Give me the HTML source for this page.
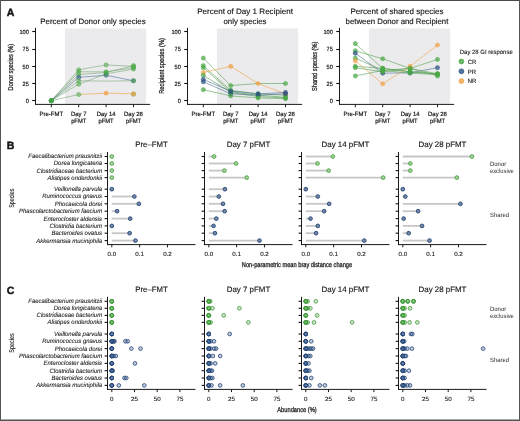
<!DOCTYPE html>
<html><head><meta charset="utf-8"><style>
html,body{margin:0;padding:0;background:#fff;width:520px;height:421px;overflow:hidden}
svg{display:block;filter:blur(0.3px);text-rendering:geometricPrecision;font-family:"Liberation Sans",sans-serif}
</style></head><body>
<svg width="520" height="421" viewBox="0 0 520 421">
<rect x="0" y="0" width="520" height="421" fill="#fff"/>
<text x="6.80" y="16.20" font-size="10.5" text-anchor="start" fill="#151515" font-weight="bold" stroke="#111" stroke-width="0.45">A</text>
<rect x="64.90" y="28.5" width="81.2" height="75.4" fill="#ebebed"/>
<text x="93.00" y="23.60" font-size="7.95" text-anchor="middle" fill="#151515" textLength="105.38" lengthAdjust="spacingAndGlyphs" stroke="#151515" stroke-width="0.14">Percent of Donor only species</text>
<text transform="translate(13.10,67.10) rotate(-90)" font-size="7.2" stroke="#1a1a1a" stroke-width="0.25" text-anchor="middle" fill="#1a1a1a" textLength="46.6" lengthAdjust="spacingAndGlyphs">Donor species (%)</text>
<line x1="35.50" y1="27.9" x2="35.50" y2="104.9" stroke="#1a1a1a" stroke-width="1"/>
<line x1="35.00" y1="104.4" x2="150.10" y2="104.4" stroke="#1a1a1a" stroke-width="1"/>
<line x1="32.20" y1="100.50" x2="35.50" y2="100.50" stroke="#111" stroke-width="1.1"/>
<text x="28.80" y="102.90" font-size="6.0" text-anchor="end" fill="#151515" textLength="3.11" lengthAdjust="spacingAndGlyphs" stroke="#151515" stroke-width="0.18">0</text>
<line x1="32.20" y1="83.50" x2="35.50" y2="83.50" stroke="#111" stroke-width="1.1"/>
<text x="28.80" y="85.71" font-size="6.0" text-anchor="end" fill="#151515" textLength="6.23" lengthAdjust="spacingAndGlyphs" stroke="#151515" stroke-width="0.18">25</text>
<line x1="32.20" y1="66.50" x2="35.50" y2="66.50" stroke="#111" stroke-width="1.1"/>
<text x="28.80" y="68.52" font-size="6.0" text-anchor="end" fill="#151515" textLength="6.23" lengthAdjust="spacingAndGlyphs" stroke="#151515" stroke-width="0.18">50</text>
<line x1="32.20" y1="49.50" x2="35.50" y2="49.50" stroke="#111" stroke-width="1.1"/>
<text x="28.80" y="51.33" font-size="6.0" text-anchor="end" fill="#151515" textLength="6.23" lengthAdjust="spacingAndGlyphs" stroke="#151515" stroke-width="0.18">75</text>
<line x1="32.20" y1="31.50" x2="35.50" y2="31.50" stroke="#111" stroke-width="1.1"/>
<text x="28.80" y="34.14" font-size="6.0" text-anchor="end" fill="#151515" textLength="9.34" lengthAdjust="spacingAndGlyphs" stroke="#151515" stroke-width="0.18">100</text>
<line x1="51.30" y1="104.4" x2="51.30" y2="107.2" stroke="#1a1a1a" stroke-width="1"/>
<text x="51.30" y="116.00" font-size="6.1" text-anchor="middle" fill="#151515" textLength="23.46" lengthAdjust="spacingAndGlyphs" stroke="#151515" stroke-width="0.18">Pre-FMT</text>
<line x1="78.70" y1="104.4" x2="78.70" y2="107.2" stroke="#1a1a1a" stroke-width="1"/>
<text x="78.70" y="116.00" font-size="6.1" text-anchor="middle" fill="#151515" textLength="15.54" lengthAdjust="spacingAndGlyphs" stroke="#151515" stroke-width="0.18">Day 7</text>
<text x="78.70" y="123.00" font-size="6.1" text-anchor="middle" fill="#151515" textLength="15.14" lengthAdjust="spacingAndGlyphs" stroke="#151515" stroke-width="0.18">pFMT</text>
<line x1="106.10" y1="104.4" x2="106.10" y2="107.2" stroke="#1a1a1a" stroke-width="1"/>
<text x="106.10" y="116.00" font-size="6.1" text-anchor="middle" fill="#151515" textLength="18.85" lengthAdjust="spacingAndGlyphs" stroke="#151515" stroke-width="0.18">Day 14</text>
<text x="106.10" y="123.00" font-size="6.1" text-anchor="middle" fill="#151515" textLength="15.14" lengthAdjust="spacingAndGlyphs" stroke="#151515" stroke-width="0.18">pFMT</text>
<line x1="133.50" y1="104.4" x2="133.50" y2="107.2" stroke="#1a1a1a" stroke-width="1"/>
<text x="133.50" y="116.00" font-size="6.1" text-anchor="middle" fill="#151515" textLength="18.85" lengthAdjust="spacingAndGlyphs" stroke="#151515" stroke-width="0.18">Day 28</text>
<text x="133.50" y="123.00" font-size="6.1" text-anchor="middle" fill="#151515" textLength="15.14" lengthAdjust="spacingAndGlyphs" stroke="#151515" stroke-width="0.18">pFMT</text>
<polyline points="51.30,100.70 78.70,69.76 106.10,64.94 133.50,66.32" fill="none" stroke="#6a9e66" stroke-opacity="0.75" stroke-width="0.7"/>
<polyline points="51.30,100.70 78.70,71.82 106.10,71.82 133.50,67.70" fill="none" stroke="#6a9e66" stroke-opacity="0.75" stroke-width="0.7"/>
<polyline points="51.30,100.70 78.70,74.57 106.10,72.51 133.50,65.63" fill="none" stroke="#6a9e66" stroke-opacity="0.75" stroke-width="0.7"/>
<polyline points="51.30,100.70 78.70,77.32 106.10,75.26 133.50,80.76" fill="none" stroke="#3f628f" stroke-opacity="0.8" stroke-width="0.7"/>
<polyline points="51.30,100.70 78.70,80.76 106.10,81.10 133.50,80.76" fill="none" stroke="#6a9e66" stroke-opacity="0.75" stroke-width="0.7"/>
<polyline points="51.30,100.70 78.70,84.20 106.10,73.88 133.50,69.07" fill="none" stroke="#6a9e66" stroke-opacity="0.75" stroke-width="0.7"/>
<polyline points="51.30,100.70 78.70,94.51" fill="none" stroke="#6a9e66" stroke-opacity="0.75" stroke-width="0.7"/>
<polyline points="133.50,94.17" fill="none" stroke="#6a9e66" stroke-opacity="0.75" stroke-width="0.7"/>
<polyline points="78.70,94.51 106.10,93.14 133.50,93.82" fill="none" stroke="#f0a040" stroke-opacity="0.85" stroke-width="0.7"/>
<circle cx="51.30" cy="100.70" r="2.1" fill="#4aa846" fill-opacity="0.5" stroke="#4aa846" stroke-opacity="0.8" stroke-width="0.6"/>
<circle cx="78.70" cy="69.76" r="2.1" fill="#4aa846" fill-opacity="0.5" stroke="#4aa846" stroke-opacity="0.8" stroke-width="0.6"/>
<circle cx="106.10" cy="64.94" r="2.1" fill="#4aa846" fill-opacity="0.5" stroke="#4aa846" stroke-opacity="0.8" stroke-width="0.6"/>
<circle cx="133.50" cy="66.32" r="2.1" fill="#4aa846" fill-opacity="0.5" stroke="#4aa846" stroke-opacity="0.8" stroke-width="0.6"/>
<circle cx="51.30" cy="100.70" r="2.1" fill="#4aa846" fill-opacity="0.5" stroke="#4aa846" stroke-opacity="0.8" stroke-width="0.6"/>
<circle cx="78.70" cy="71.82" r="2.1" fill="#4aa846" fill-opacity="0.5" stroke="#4aa846" stroke-opacity="0.8" stroke-width="0.6"/>
<circle cx="106.10" cy="71.82" r="2.1" fill="#4aa846" fill-opacity="0.5" stroke="#4aa846" stroke-opacity="0.8" stroke-width="0.6"/>
<circle cx="133.50" cy="67.70" r="2.1" fill="#4aa846" fill-opacity="0.5" stroke="#4aa846" stroke-opacity="0.8" stroke-width="0.6"/>
<circle cx="51.30" cy="100.70" r="2.1" fill="#4aa846" fill-opacity="0.5" stroke="#4aa846" stroke-opacity="0.8" stroke-width="0.6"/>
<circle cx="78.70" cy="74.57" r="2.1" fill="#4aa846" fill-opacity="0.5" stroke="#4aa846" stroke-opacity="0.8" stroke-width="0.6"/>
<circle cx="106.10" cy="72.51" r="2.1" fill="#4aa846" fill-opacity="0.5" stroke="#4aa846" stroke-opacity="0.8" stroke-width="0.6"/>
<circle cx="133.50" cy="65.63" r="2.1" fill="#4aa846" fill-opacity="0.5" stroke="#4aa846" stroke-opacity="0.8" stroke-width="0.6"/>
<circle cx="51.30" cy="100.70" r="2.1" fill="#2c5183" fill-opacity="0.5" stroke="#2c5183" stroke-opacity="0.8" stroke-width="0.6"/>
<circle cx="78.70" cy="77.32" r="2.1" fill="#2c5183" fill-opacity="0.5" stroke="#2c5183" stroke-opacity="0.8" stroke-width="0.6"/>
<circle cx="106.10" cy="75.26" r="2.1" fill="#2c5183" fill-opacity="0.5" stroke="#2c5183" stroke-opacity="0.8" stroke-width="0.6"/>
<circle cx="133.50" cy="80.76" r="2.1" fill="#2c5183" fill-opacity="0.5" stroke="#2c5183" stroke-opacity="0.8" stroke-width="0.6"/>
<circle cx="51.30" cy="100.70" r="2.1" fill="#4aa846" fill-opacity="0.5" stroke="#4aa846" stroke-opacity="0.8" stroke-width="0.6"/>
<circle cx="78.70" cy="80.76" r="2.1" fill="#4aa846" fill-opacity="0.5" stroke="#4aa846" stroke-opacity="0.8" stroke-width="0.6"/>
<circle cx="133.50" cy="80.76" r="2.1" fill="#4aa846" fill-opacity="0.5" stroke="#4aa846" stroke-opacity="0.8" stroke-width="0.6"/>
<circle cx="51.30" cy="100.70" r="2.1" fill="#4aa846" fill-opacity="0.5" stroke="#4aa846" stroke-opacity="0.8" stroke-width="0.6"/>
<circle cx="78.70" cy="84.20" r="2.1" fill="#4aa846" fill-opacity="0.5" stroke="#4aa846" stroke-opacity="0.8" stroke-width="0.6"/>
<circle cx="106.10" cy="73.88" r="2.1" fill="#4aa846" fill-opacity="0.5" stroke="#4aa846" stroke-opacity="0.8" stroke-width="0.6"/>
<circle cx="133.50" cy="69.07" r="2.1" fill="#4aa846" fill-opacity="0.5" stroke="#4aa846" stroke-opacity="0.8" stroke-width="0.6"/>
<circle cx="51.30" cy="100.70" r="2.1" fill="#4aa846" fill-opacity="0.5" stroke="#4aa846" stroke-opacity="0.8" stroke-width="0.6"/>
<circle cx="78.70" cy="94.51" r="2.1" fill="#4aa846" fill-opacity="0.5" stroke="#4aa846" stroke-opacity="0.8" stroke-width="0.6"/>
<circle cx="133.50" cy="94.17" r="2.1" fill="#4aa846" fill-opacity="0.5" stroke="#4aa846" stroke-opacity="0.8" stroke-width="0.6"/>
<circle cx="106.10" cy="93.14" r="2.1" fill="#f0a045" fill-opacity="0.7" stroke="#f0a045" stroke-opacity="0.8" stroke-width="0.6"/>
<circle cx="133.50" cy="93.82" r="2.1" fill="#f0a045" fill-opacity="0.7" stroke="#f0a045" stroke-opacity="0.8" stroke-width="0.6"/>
<rect x="216.90" y="28.5" width="81.2" height="75.4" fill="#ebebed"/>
<text x="245.00" y="13.70" font-size="7.95" text-anchor="middle" fill="#151515" textLength="95.75" lengthAdjust="spacingAndGlyphs" stroke="#151515" stroke-width="0.14">Percent of Day 1 Recipient</text>
<text x="245.00" y="24.40" font-size="7.95" text-anchor="middle" fill="#151515" textLength="42.92" lengthAdjust="spacingAndGlyphs" stroke="#151515" stroke-width="0.14">only species</text>
<text transform="translate(164.30,65.90) rotate(-90)" font-size="7.2" stroke="#1a1a1a" stroke-width="0.25" text-anchor="middle" fill="#1a1a1a" textLength="55.8" lengthAdjust="spacingAndGlyphs">Recipient species (%)</text>
<line x1="187.50" y1="27.9" x2="187.50" y2="104.9" stroke="#1a1a1a" stroke-width="1"/>
<line x1="187.00" y1="104.4" x2="302.10" y2="104.4" stroke="#1a1a1a" stroke-width="1"/>
<line x1="184.20" y1="100.50" x2="187.50" y2="100.50" stroke="#111" stroke-width="1.1"/>
<text x="180.80" y="102.90" font-size="6.0" text-anchor="end" fill="#151515" textLength="3.11" lengthAdjust="spacingAndGlyphs" stroke="#151515" stroke-width="0.18">0</text>
<line x1="184.20" y1="83.50" x2="187.50" y2="83.50" stroke="#111" stroke-width="1.1"/>
<text x="180.80" y="85.71" font-size="6.0" text-anchor="end" fill="#151515" textLength="6.23" lengthAdjust="spacingAndGlyphs" stroke="#151515" stroke-width="0.18">25</text>
<line x1="184.20" y1="66.50" x2="187.50" y2="66.50" stroke="#111" stroke-width="1.1"/>
<text x="180.80" y="68.52" font-size="6.0" text-anchor="end" fill="#151515" textLength="6.23" lengthAdjust="spacingAndGlyphs" stroke="#151515" stroke-width="0.18">50</text>
<line x1="184.20" y1="49.50" x2="187.50" y2="49.50" stroke="#111" stroke-width="1.1"/>
<text x="180.80" y="51.33" font-size="6.0" text-anchor="end" fill="#151515" textLength="6.23" lengthAdjust="spacingAndGlyphs" stroke="#151515" stroke-width="0.18">75</text>
<line x1="184.20" y1="31.50" x2="187.50" y2="31.50" stroke="#111" stroke-width="1.1"/>
<text x="180.80" y="34.14" font-size="6.0" text-anchor="end" fill="#151515" textLength="9.34" lengthAdjust="spacingAndGlyphs" stroke="#151515" stroke-width="0.18">100</text>
<line x1="203.30" y1="104.4" x2="203.30" y2="107.2" stroke="#1a1a1a" stroke-width="1"/>
<text x="203.30" y="116.00" font-size="6.1" text-anchor="middle" fill="#151515" textLength="23.46" lengthAdjust="spacingAndGlyphs" stroke="#151515" stroke-width="0.18">Pre-FMT</text>
<line x1="230.70" y1="104.4" x2="230.70" y2="107.2" stroke="#1a1a1a" stroke-width="1"/>
<text x="230.70" y="116.00" font-size="6.1" text-anchor="middle" fill="#151515" textLength="15.54" lengthAdjust="spacingAndGlyphs" stroke="#151515" stroke-width="0.18">Day 7</text>
<text x="230.70" y="123.00" font-size="6.1" text-anchor="middle" fill="#151515" textLength="15.14" lengthAdjust="spacingAndGlyphs" stroke="#151515" stroke-width="0.18">pFMT</text>
<line x1="258.10" y1="104.4" x2="258.10" y2="107.2" stroke="#1a1a1a" stroke-width="1"/>
<text x="258.10" y="116.00" font-size="6.1" text-anchor="middle" fill="#151515" textLength="18.85" lengthAdjust="spacingAndGlyphs" stroke="#151515" stroke-width="0.18">Day 14</text>
<text x="258.10" y="123.00" font-size="6.1" text-anchor="middle" fill="#151515" textLength="15.14" lengthAdjust="spacingAndGlyphs" stroke="#151515" stroke-width="0.18">pFMT</text>
<line x1="285.50" y1="104.4" x2="285.50" y2="107.2" stroke="#1a1a1a" stroke-width="1"/>
<text x="285.50" y="116.00" font-size="6.1" text-anchor="middle" fill="#151515" textLength="18.85" lengthAdjust="spacingAndGlyphs" stroke="#151515" stroke-width="0.18">Day 28</text>
<text x="285.50" y="123.00" font-size="6.1" text-anchor="middle" fill="#151515" textLength="15.14" lengthAdjust="spacingAndGlyphs" stroke="#151515" stroke-width="0.18">pFMT</text>
<polyline points="203.30,58.07 230.70,85.57 258.10,83.51 285.50,83.51" fill="none" stroke="#55a050" stroke-opacity="0.85" stroke-width="0.7"/>
<polyline points="203.30,65.63 230.70,90.39 258.10,93.82 285.50,95.20" fill="none" stroke="#55a050" stroke-opacity="0.85" stroke-width="0.7"/>
<polyline points="203.30,67.70 230.70,91.76 258.10,95.20 285.50,97.26" fill="none" stroke="#55a050" stroke-opacity="0.85" stroke-width="0.7"/>
<polyline points="203.30,72.51 230.70,66.32 258.10,83.51 285.50,93.82" fill="none" stroke="#f0a040" stroke-opacity="0.85" stroke-width="0.7"/>
<polyline points="203.30,75.26 230.70,92.45 258.10,96.57 285.50,97.95" fill="none" stroke="#55a050" stroke-opacity="0.85" stroke-width="0.7"/>
<polyline points="203.30,79.38 230.70,91.07 258.10,93.82 285.50,92.45" fill="none" stroke="#3f628f" stroke-opacity="0.8" stroke-width="0.7"/>
<polyline points="203.30,81.79 230.70,93.82 258.10,95.20 285.50,93.82" fill="none" stroke="#3f628f" stroke-opacity="0.8" stroke-width="0.7"/>
<polyline points="203.30,89.70 230.70,95.89 258.10,97.95 285.50,98.64" fill="none" stroke="#55a050" stroke-opacity="0.85" stroke-width="0.7"/>
<circle cx="203.30" cy="58.07" r="2.1" fill="#4aa846" fill-opacity="0.7" stroke="#4aa846" stroke-opacity="0.8" stroke-width="0.6"/>
<circle cx="230.70" cy="85.57" r="2.1" fill="#4aa846" fill-opacity="0.7" stroke="#4aa846" stroke-opacity="0.8" stroke-width="0.6"/>
<circle cx="285.50" cy="83.51" r="2.1" fill="#4aa846" fill-opacity="0.7" stroke="#4aa846" stroke-opacity="0.8" stroke-width="0.6"/>
<circle cx="203.30" cy="65.63" r="2.1" fill="#4aa846" fill-opacity="0.7" stroke="#4aa846" stroke-opacity="0.8" stroke-width="0.6"/>
<circle cx="230.70" cy="90.39" r="2.1" fill="#4aa846" fill-opacity="0.7" stroke="#4aa846" stroke-opacity="0.8" stroke-width="0.6"/>
<circle cx="258.10" cy="93.82" r="2.1" fill="#4aa846" fill-opacity="0.7" stroke="#4aa846" stroke-opacity="0.8" stroke-width="0.6"/>
<circle cx="285.50" cy="95.20" r="2.1" fill="#4aa846" fill-opacity="0.7" stroke="#4aa846" stroke-opacity="0.8" stroke-width="0.6"/>
<circle cx="203.30" cy="67.70" r="2.1" fill="#4aa846" fill-opacity="0.7" stroke="#4aa846" stroke-opacity="0.8" stroke-width="0.6"/>
<circle cx="230.70" cy="91.76" r="2.1" fill="#4aa846" fill-opacity="0.7" stroke="#4aa846" stroke-opacity="0.8" stroke-width="0.6"/>
<circle cx="258.10" cy="95.20" r="2.1" fill="#4aa846" fill-opacity="0.7" stroke="#4aa846" stroke-opacity="0.8" stroke-width="0.6"/>
<circle cx="285.50" cy="97.26" r="2.1" fill="#4aa846" fill-opacity="0.7" stroke="#4aa846" stroke-opacity="0.8" stroke-width="0.6"/>
<circle cx="203.30" cy="72.51" r="2.1" fill="#f0a045" fill-opacity="0.7" stroke="#f0a045" stroke-opacity="0.8" stroke-width="0.6"/>
<circle cx="230.70" cy="66.32" r="2.1" fill="#f0a045" fill-opacity="0.7" stroke="#f0a045" stroke-opacity="0.8" stroke-width="0.6"/>
<circle cx="258.10" cy="83.51" r="2.1" fill="#f0a045" fill-opacity="0.7" stroke="#f0a045" stroke-opacity="0.8" stroke-width="0.6"/>
<circle cx="285.50" cy="93.82" r="2.1" fill="#f0a045" fill-opacity="0.7" stroke="#f0a045" stroke-opacity="0.8" stroke-width="0.6"/>
<circle cx="203.30" cy="75.26" r="2.1" fill="#4aa846" fill-opacity="0.7" stroke="#4aa846" stroke-opacity="0.8" stroke-width="0.6"/>
<circle cx="230.70" cy="92.45" r="2.1" fill="#4aa846" fill-opacity="0.7" stroke="#4aa846" stroke-opacity="0.8" stroke-width="0.6"/>
<circle cx="258.10" cy="96.57" r="2.1" fill="#4aa846" fill-opacity="0.7" stroke="#4aa846" stroke-opacity="0.8" stroke-width="0.6"/>
<circle cx="285.50" cy="97.95" r="2.1" fill="#4aa846" fill-opacity="0.7" stroke="#4aa846" stroke-opacity="0.8" stroke-width="0.6"/>
<circle cx="203.30" cy="79.38" r="2.1" fill="#2c5183" fill-opacity="0.7" stroke="#2c5183" stroke-opacity="0.8" stroke-width="0.6"/>
<circle cx="230.70" cy="91.07" r="2.1" fill="#2c5183" fill-opacity="0.7" stroke="#2c5183" stroke-opacity="0.8" stroke-width="0.6"/>
<circle cx="258.10" cy="93.82" r="2.1" fill="#2c5183" fill-opacity="0.7" stroke="#2c5183" stroke-opacity="0.8" stroke-width="0.6"/>
<circle cx="285.50" cy="92.45" r="2.1" fill="#2c5183" fill-opacity="0.7" stroke="#2c5183" stroke-opacity="0.8" stroke-width="0.6"/>
<circle cx="203.30" cy="81.79" r="2.1" fill="#2c5183" fill-opacity="0.7" stroke="#2c5183" stroke-opacity="0.8" stroke-width="0.6"/>
<circle cx="230.70" cy="93.82" r="2.1" fill="#2c5183" fill-opacity="0.7" stroke="#2c5183" stroke-opacity="0.8" stroke-width="0.6"/>
<circle cx="258.10" cy="95.20" r="2.1" fill="#2c5183" fill-opacity="0.7" stroke="#2c5183" stroke-opacity="0.8" stroke-width="0.6"/>
<circle cx="285.50" cy="93.82" r="2.1" fill="#2c5183" fill-opacity="0.7" stroke="#2c5183" stroke-opacity="0.8" stroke-width="0.6"/>
<circle cx="203.30" cy="89.70" r="2.1" fill="#4aa846" fill-opacity="0.7" stroke="#4aa846" stroke-opacity="0.8" stroke-width="0.6"/>
<circle cx="230.70" cy="95.89" r="2.1" fill="#4aa846" fill-opacity="0.7" stroke="#4aa846" stroke-opacity="0.8" stroke-width="0.6"/>
<circle cx="258.10" cy="97.95" r="2.1" fill="#4aa846" fill-opacity="0.7" stroke="#4aa846" stroke-opacity="0.8" stroke-width="0.6"/>
<circle cx="285.50" cy="98.64" r="2.1" fill="#4aa846" fill-opacity="0.7" stroke="#4aa846" stroke-opacity="0.8" stroke-width="0.6"/>
<rect x="368.90" y="28.5" width="81.2" height="75.4" fill="#ebebed"/>
<text x="397.00" y="13.70" font-size="7.95" text-anchor="middle" fill="#151515" textLength="93.07" lengthAdjust="spacingAndGlyphs" stroke="#151515" stroke-width="0.14">Percent of shared species</text>
<text x="397.00" y="24.40" font-size="7.95" text-anchor="middle" fill="#151515" textLength="102.76" lengthAdjust="spacingAndGlyphs" stroke="#151515" stroke-width="0.14">between Donor and Recipient</text>
<text transform="translate(317.20,66.30) rotate(-90)" font-size="7.2" stroke="#1a1a1a" stroke-width="0.25" text-anchor="middle" fill="#1a1a1a" textLength="49.4" lengthAdjust="spacingAndGlyphs">Shared species (%)</text>
<line x1="339.50" y1="27.9" x2="339.50" y2="104.9" stroke="#1a1a1a" stroke-width="1"/>
<line x1="339.00" y1="104.4" x2="454.10" y2="104.4" stroke="#1a1a1a" stroke-width="1"/>
<line x1="336.20" y1="100.50" x2="339.50" y2="100.50" stroke="#111" stroke-width="1.1"/>
<text x="332.80" y="102.90" font-size="6.0" text-anchor="end" fill="#151515" textLength="3.11" lengthAdjust="spacingAndGlyphs" stroke="#151515" stroke-width="0.18">0</text>
<line x1="336.20" y1="83.50" x2="339.50" y2="83.50" stroke="#111" stroke-width="1.1"/>
<text x="332.80" y="85.71" font-size="6.0" text-anchor="end" fill="#151515" textLength="6.23" lengthAdjust="spacingAndGlyphs" stroke="#151515" stroke-width="0.18">25</text>
<line x1="336.20" y1="66.50" x2="339.50" y2="66.50" stroke="#111" stroke-width="1.1"/>
<text x="332.80" y="68.52" font-size="6.0" text-anchor="end" fill="#151515" textLength="6.23" lengthAdjust="spacingAndGlyphs" stroke="#151515" stroke-width="0.18">50</text>
<line x1="336.20" y1="49.50" x2="339.50" y2="49.50" stroke="#111" stroke-width="1.1"/>
<text x="332.80" y="51.33" font-size="6.0" text-anchor="end" fill="#151515" textLength="6.23" lengthAdjust="spacingAndGlyphs" stroke="#151515" stroke-width="0.18">75</text>
<line x1="336.20" y1="31.50" x2="339.50" y2="31.50" stroke="#111" stroke-width="1.1"/>
<text x="332.80" y="34.14" font-size="6.0" text-anchor="end" fill="#151515" textLength="9.34" lengthAdjust="spacingAndGlyphs" stroke="#151515" stroke-width="0.18">100</text>
<line x1="355.30" y1="104.4" x2="355.30" y2="107.2" stroke="#1a1a1a" stroke-width="1"/>
<text x="355.30" y="116.00" font-size="6.1" text-anchor="middle" fill="#151515" textLength="23.46" lengthAdjust="spacingAndGlyphs" stroke="#151515" stroke-width="0.18">Pre-FMT</text>
<line x1="382.70" y1="104.4" x2="382.70" y2="107.2" stroke="#1a1a1a" stroke-width="1"/>
<text x="382.70" y="116.00" font-size="6.1" text-anchor="middle" fill="#151515" textLength="15.54" lengthAdjust="spacingAndGlyphs" stroke="#151515" stroke-width="0.18">Day 7</text>
<text x="382.70" y="123.00" font-size="6.1" text-anchor="middle" fill="#151515" textLength="15.14" lengthAdjust="spacingAndGlyphs" stroke="#151515" stroke-width="0.18">pFMT</text>
<line x1="410.10" y1="104.4" x2="410.10" y2="107.2" stroke="#1a1a1a" stroke-width="1"/>
<text x="410.10" y="116.00" font-size="6.1" text-anchor="middle" fill="#151515" textLength="18.85" lengthAdjust="spacingAndGlyphs" stroke="#151515" stroke-width="0.18">Day 14</text>
<text x="410.10" y="123.00" font-size="6.1" text-anchor="middle" fill="#151515" textLength="15.14" lengthAdjust="spacingAndGlyphs" stroke="#151515" stroke-width="0.18">pFMT</text>
<line x1="437.50" y1="104.4" x2="437.50" y2="107.2" stroke="#1a1a1a" stroke-width="1"/>
<text x="437.50" y="116.00" font-size="6.1" text-anchor="middle" fill="#151515" textLength="18.85" lengthAdjust="spacingAndGlyphs" stroke="#151515" stroke-width="0.18">Day 28</text>
<text x="437.50" y="123.00" font-size="6.1" text-anchor="middle" fill="#151515" textLength="15.14" lengthAdjust="spacingAndGlyphs" stroke="#151515" stroke-width="0.18">pFMT</text>
<polyline points="355.30,43.63 382.70,68.38 410.10,71.82 437.50,73.88" fill="none" stroke="#55a050" stroke-opacity="0.85" stroke-width="0.7"/>
<polyline points="355.30,50.78 382.70,58.76 410.10,68.38 437.50,59.44" fill="none" stroke="#55a050" stroke-opacity="0.85" stroke-width="0.7"/>
<polyline points="355.30,53.26 382.70,73.20 410.10,72.85 437.50,67.70" fill="none" stroke="#3f628f" stroke-opacity="0.8" stroke-width="0.7"/>
<polyline points="355.30,58.07 382.70,70.45 410.10,68.38 437.50,75.95" fill="none" stroke="#55a050" stroke-opacity="0.85" stroke-width="0.7"/>
<polyline points="355.30,60.82 382.70,83.85 410.10,66.32 437.50,45.00" fill="none" stroke="#f0a040" stroke-opacity="0.85" stroke-width="0.7"/>
<polyline points="355.30,66.32 382.70,68.38 410.10,71.82 437.50,73.88" fill="none" stroke="#55a050" stroke-opacity="0.85" stroke-width="0.7"/>
<polyline points="355.30,67.70 382.70,71.82 410.10,68.38 437.50,73.88" fill="none" stroke="#55a050" stroke-opacity="0.85" stroke-width="0.7"/>
<polyline points="355.30,75.95 382.70,70.45 410.10,73.20 437.50,74.57" fill="none" stroke="#55a050" stroke-opacity="0.85" stroke-width="0.7"/>
<circle cx="355.30" cy="43.63" r="2.1" fill="#4aa846" fill-opacity="0.7" stroke="#4aa846" stroke-opacity="0.8" stroke-width="0.6"/>
<circle cx="382.70" cy="68.38" r="2.1" fill="#4aa846" fill-opacity="0.7" stroke="#4aa846" stroke-opacity="0.8" stroke-width="0.6"/>
<circle cx="410.10" cy="71.82" r="2.1" fill="#4aa846" fill-opacity="0.7" stroke="#4aa846" stroke-opacity="0.8" stroke-width="0.6"/>
<circle cx="437.50" cy="73.88" r="2.1" fill="#4aa846" fill-opacity="0.7" stroke="#4aa846" stroke-opacity="0.8" stroke-width="0.6"/>
<circle cx="355.30" cy="50.78" r="2.1" fill="#4aa846" fill-opacity="0.7" stroke="#4aa846" stroke-opacity="0.8" stroke-width="0.6"/>
<circle cx="382.70" cy="58.76" r="2.1" fill="#4aa846" fill-opacity="0.7" stroke="#4aa846" stroke-opacity="0.8" stroke-width="0.6"/>
<circle cx="410.10" cy="68.38" r="2.1" fill="#4aa846" fill-opacity="0.7" stroke="#4aa846" stroke-opacity="0.8" stroke-width="0.6"/>
<circle cx="437.50" cy="59.44" r="2.1" fill="#4aa846" fill-opacity="0.7" stroke="#4aa846" stroke-opacity="0.8" stroke-width="0.6"/>
<circle cx="355.30" cy="53.26" r="2.1" fill="#2c5183" fill-opacity="0.7" stroke="#2c5183" stroke-opacity="0.8" stroke-width="0.6"/>
<circle cx="382.70" cy="73.20" r="2.1" fill="#2c5183" fill-opacity="0.7" stroke="#2c5183" stroke-opacity="0.8" stroke-width="0.6"/>
<circle cx="410.10" cy="72.85" r="2.1" fill="#2c5183" fill-opacity="0.7" stroke="#2c5183" stroke-opacity="0.8" stroke-width="0.6"/>
<circle cx="437.50" cy="67.70" r="2.1" fill="#2c5183" fill-opacity="0.7" stroke="#2c5183" stroke-opacity="0.8" stroke-width="0.6"/>
<circle cx="355.30" cy="58.07" r="2.1" fill="#4aa846" fill-opacity="0.7" stroke="#4aa846" stroke-opacity="0.8" stroke-width="0.6"/>
<circle cx="382.70" cy="70.45" r="2.1" fill="#4aa846" fill-opacity="0.7" stroke="#4aa846" stroke-opacity="0.8" stroke-width="0.6"/>
<circle cx="410.10" cy="68.38" r="2.1" fill="#4aa846" fill-opacity="0.7" stroke="#4aa846" stroke-opacity="0.8" stroke-width="0.6"/>
<circle cx="437.50" cy="75.95" r="2.1" fill="#4aa846" fill-opacity="0.7" stroke="#4aa846" stroke-opacity="0.8" stroke-width="0.6"/>
<circle cx="355.30" cy="60.82" r="2.1" fill="#f0a045" fill-opacity="0.7" stroke="#f0a045" stroke-opacity="0.8" stroke-width="0.6"/>
<circle cx="382.70" cy="83.85" r="2.1" fill="#f0a045" fill-opacity="0.7" stroke="#f0a045" stroke-opacity="0.8" stroke-width="0.6"/>
<circle cx="410.10" cy="66.32" r="2.1" fill="#f0a045" fill-opacity="0.7" stroke="#f0a045" stroke-opacity="0.8" stroke-width="0.6"/>
<circle cx="437.50" cy="45.00" r="2.1" fill="#f0a045" fill-opacity="0.7" stroke="#f0a045" stroke-opacity="0.8" stroke-width="0.6"/>
<circle cx="355.30" cy="66.32" r="2.1" fill="#4aa846" fill-opacity="0.7" stroke="#4aa846" stroke-opacity="0.8" stroke-width="0.6"/>
<circle cx="382.70" cy="68.38" r="2.1" fill="#4aa846" fill-opacity="0.7" stroke="#4aa846" stroke-opacity="0.8" stroke-width="0.6"/>
<circle cx="410.10" cy="71.82" r="2.1" fill="#4aa846" fill-opacity="0.7" stroke="#4aa846" stroke-opacity="0.8" stroke-width="0.6"/>
<circle cx="437.50" cy="73.88" r="2.1" fill="#4aa846" fill-opacity="0.7" stroke="#4aa846" stroke-opacity="0.8" stroke-width="0.6"/>
<circle cx="355.30" cy="67.70" r="2.1" fill="#4aa846" fill-opacity="0.7" stroke="#4aa846" stroke-opacity="0.8" stroke-width="0.6"/>
<circle cx="382.70" cy="71.82" r="2.1" fill="#4aa846" fill-opacity="0.7" stroke="#4aa846" stroke-opacity="0.8" stroke-width="0.6"/>
<circle cx="410.10" cy="68.38" r="2.1" fill="#4aa846" fill-opacity="0.7" stroke="#4aa846" stroke-opacity="0.8" stroke-width="0.6"/>
<circle cx="437.50" cy="73.88" r="2.1" fill="#4aa846" fill-opacity="0.7" stroke="#4aa846" stroke-opacity="0.8" stroke-width="0.6"/>
<circle cx="355.30" cy="75.95" r="2.1" fill="#4aa846" fill-opacity="0.7" stroke="#4aa846" stroke-opacity="0.8" stroke-width="0.6"/>
<circle cx="382.70" cy="70.45" r="2.1" fill="#4aa846" fill-opacity="0.7" stroke="#4aa846" stroke-opacity="0.8" stroke-width="0.6"/>
<circle cx="410.10" cy="73.20" r="2.1" fill="#4aa846" fill-opacity="0.7" stroke="#4aa846" stroke-opacity="0.8" stroke-width="0.6"/>
<circle cx="437.50" cy="74.57" r="2.1" fill="#4aa846" fill-opacity="0.7" stroke="#4aa846" stroke-opacity="0.8" stroke-width="0.6"/>
<text x="459.80" y="54.20" font-size="6.2" text-anchor="start" fill="#151515" textLength="52.91" lengthAdjust="spacingAndGlyphs"  stroke="#151515" stroke-width="0.1">Day 28 GI response</text>
<circle cx="461.4" cy="61.50" r="2.4" fill="#4aa846" fill-opacity="0.8" stroke="#4aa846" stroke-width="0.8"/>
<text x="467.70" y="63.70" font-size="6.2" text-anchor="start" fill="#151515" textLength="8.59" lengthAdjust="spacingAndGlyphs"  stroke="#151515" stroke-width="0.1">CR</text>
<circle cx="461.4" cy="71.30" r="2.4" fill="#2c5183" fill-opacity="0.8" stroke="#2c5183" stroke-width="0.8"/>
<text x="467.70" y="73.50" font-size="6.2" text-anchor="start" fill="#151515" textLength="8.27" lengthAdjust="spacingAndGlyphs"  stroke="#151515" stroke-width="0.1">PR</text>
<circle cx="461.4" cy="81.10" r="2.4" fill="#f0a045" fill-opacity="0.8" stroke="#f0a045" stroke-width="0.8"/>
<text x="467.70" y="83.30" font-size="6.2" text-anchor="start" fill="#151515" textLength="8.59" lengthAdjust="spacingAndGlyphs"  stroke="#151515" stroke-width="0.1">NR</text>
<text x="6.80" y="149.20" font-size="10.5" text-anchor="start" fill="#151515" font-weight="bold" stroke="#111" stroke-width="0.45">B</text>
<text x="102.10" y="158.40" font-size="6.25" text-anchor="end" fill="#151515" textLength="73.74" lengthAdjust="spacingAndGlyphs" font-style="italic" stroke="#222" stroke-width="0.08">Faecalibacterium prausnitzii</text>
<text x="102.10" y="165.40" font-size="6.25" text-anchor="end" fill="#151515" textLength="48.29" lengthAdjust="spacingAndGlyphs" font-style="italic" stroke="#222" stroke-width="0.08">Dorea longicatena</text>
<text x="102.10" y="172.50" font-size="6.25" text-anchor="end" fill="#151515" textLength="65.48" lengthAdjust="spacingAndGlyphs" font-style="italic" stroke="#222" stroke-width="0.08">Clostridiaceae bacterium</text>
<text x="102.10" y="179.50" font-size="6.25" text-anchor="end" fill="#151515" textLength="54.57" lengthAdjust="spacingAndGlyphs" font-style="italic" stroke="#222" stroke-width="0.08">Alistipes onderdonkii</text>
<text x="102.10" y="191.10" font-size="6.25" text-anchor="end" fill="#151515" textLength="48.07" lengthAdjust="spacingAndGlyphs" font-style="italic" stroke="#222" stroke-width="0.08">Veillonella parvula</text>
<text x="102.10" y="198.40" font-size="6.25" text-anchor="end" fill="#151515" textLength="59.86" lengthAdjust="spacingAndGlyphs" font-style="italic" stroke="#222" stroke-width="0.08">Ruminococcus gnavus</text>
<text x="102.10" y="205.70" font-size="6.25" text-anchor="end" fill="#151515" textLength="47.3" lengthAdjust="spacingAndGlyphs" font-style="italic" stroke="#222" stroke-width="0.08">Phocaeicola dorei</text>
<text x="102.10" y="213.10" font-size="6.25" text-anchor="end" fill="#151515" textLength="83.0" lengthAdjust="spacingAndGlyphs" font-style="italic" stroke="#222" stroke-width="0.08">Phascolarctobacterium faecium</text>
<text x="102.10" y="220.50" font-size="6.25" text-anchor="end" fill="#151515" textLength="58.53" lengthAdjust="spacingAndGlyphs" font-style="italic" stroke="#222" stroke-width="0.08">Enterocloster aldensis</text>
<text x="102.10" y="227.80" font-size="6.25" text-anchor="end" fill="#151515" textLength="52.57" lengthAdjust="spacingAndGlyphs" font-style="italic" stroke="#222" stroke-width="0.08">Clostridia bacterium</text>
<text x="102.10" y="235.10" font-size="6.25" text-anchor="end" fill="#151515" textLength="50.6" lengthAdjust="spacingAndGlyphs" font-style="italic" stroke="#222" stroke-width="0.08">Bacteroides ovatus</text>
<text x="102.10" y="242.50" font-size="6.25" text-anchor="end" fill="#151515" textLength="65.8" lengthAdjust="spacingAndGlyphs" font-style="italic" stroke="#222" stroke-width="0.08">Akkermansia muciniphila</text>
<text transform="translate(13.60,198.20) rotate(-90)" font-size="7.0" stroke="#1a1a1a" stroke-width="0.12" text-anchor="middle" fill="#1a1a1a" textLength="19.3" lengthAdjust="spacingAndGlyphs">Species</text>
<text x="151.50" y="146.80" font-size="7.95" text-anchor="middle" fill="#151515" textLength="32.29" lengthAdjust="spacingAndGlyphs" stroke="#151515" stroke-width="0.14">Pre–FMT</text>
<line x1="107.50" y1="152.00" x2="107.50" y2="245.10" stroke="#1a1a1a" stroke-width="1"/>
<line x1="107.00" y1="244.60" x2="195.50" y2="244.60" stroke="#1a1a1a" stroke-width="1"/>
<line x1="104.60" y1="156.50" x2="107.50" y2="156.50" stroke="#111" stroke-width="1.1"/>
<line x1="104.60" y1="163.50" x2="107.50" y2="163.50" stroke="#111" stroke-width="1.1"/>
<line x1="104.60" y1="170.60" x2="107.50" y2="170.60" stroke="#111" stroke-width="1.1"/>
<line x1="104.60" y1="177.60" x2="107.50" y2="177.60" stroke="#111" stroke-width="1.1"/>
<line x1="104.60" y1="189.20" x2="107.50" y2="189.20" stroke="#111" stroke-width="1.1"/>
<line x1="104.60" y1="196.50" x2="107.50" y2="196.50" stroke="#111" stroke-width="1.1"/>
<line x1="104.60" y1="203.80" x2="107.50" y2="203.80" stroke="#111" stroke-width="1.1"/>
<line x1="104.60" y1="211.20" x2="107.50" y2="211.20" stroke="#111" stroke-width="1.1"/>
<line x1="104.60" y1="218.60" x2="107.50" y2="218.60" stroke="#111" stroke-width="1.1"/>
<line x1="104.60" y1="225.90" x2="107.50" y2="225.90" stroke="#111" stroke-width="1.1"/>
<line x1="104.60" y1="233.20" x2="107.50" y2="233.20" stroke="#111" stroke-width="1.1"/>
<line x1="104.60" y1="240.60" x2="107.50" y2="240.60" stroke="#111" stroke-width="1.1"/>
<line x1="111.80" y1="244.60" x2="111.80" y2="247.30" stroke="#1a1a1a" stroke-width="1"/>
<text x="111.80" y="255.70" font-size="6.1" text-anchor="middle" fill="#151515" textLength="8.62" lengthAdjust="spacingAndGlyphs"  stroke="#151515" stroke-width="0.1">0.0</text>
<line x1="139.65" y1="244.60" x2="139.65" y2="247.30" stroke="#1a1a1a" stroke-width="1"/>
<text x="139.65" y="255.70" font-size="6.1" text-anchor="middle" fill="#151515" textLength="8.62" lengthAdjust="spacingAndGlyphs"  stroke="#151515" stroke-width="0.1">0.1</text>
<line x1="167.50" y1="244.60" x2="167.50" y2="247.30" stroke="#1a1a1a" stroke-width="1"/>
<text x="167.50" y="255.70" font-size="6.1" text-anchor="middle" fill="#151515" textLength="8.62" lengthAdjust="spacingAndGlyphs"  stroke="#151515" stroke-width="0.1">0.2</text>
<circle cx="111.80" cy="156.50" r="1.85" fill="#a3d69a" stroke="#4d9e47" stroke-width="0.95"/>
<circle cx="111.80" cy="163.50" r="1.85" fill="#a3d69a" stroke="#4d9e47" stroke-width="0.95"/>
<circle cx="111.80" cy="170.60" r="1.85" fill="#a3d69a" stroke="#4d9e47" stroke-width="0.95"/>
<circle cx="111.80" cy="177.60" r="1.85" fill="#a3d69a" stroke="#4d9e47" stroke-width="0.95"/>
<circle cx="111.80" cy="189.20" r="1.85" fill="#7489a8" stroke="#294a79" stroke-width="0.95"/>
<line x1="111.80" y1="196.50" x2="134.36" y2="196.50" stroke="#c6c6c6" stroke-width="1.8"/>
<circle cx="134.36" cy="196.50" r="1.85" fill="#7489a8" stroke="#294a79" stroke-width="0.95"/>
<line x1="111.80" y1="203.80" x2="138.81" y2="203.80" stroke="#c6c6c6" stroke-width="1.8"/>
<circle cx="138.81" cy="203.80" r="1.85" fill="#7489a8" stroke="#294a79" stroke-width="0.95"/>
<line x1="111.80" y1="211.20" x2="117.09" y2="211.20" stroke="#c6c6c6" stroke-width="1.8"/>
<circle cx="117.09" cy="211.20" r="1.85" fill="#7489a8" stroke="#294a79" stroke-width="0.95"/>
<line x1="111.80" y1="218.60" x2="130.18" y2="218.60" stroke="#c6c6c6" stroke-width="1.8"/>
<circle cx="130.18" cy="218.60" r="1.85" fill="#7489a8" stroke="#294a79" stroke-width="0.95"/>
<circle cx="111.80" cy="225.90" r="1.85" fill="#7489a8" stroke="#294a79" stroke-width="0.95"/>
<line x1="111.80" y1="233.20" x2="129.62" y2="233.20" stroke="#c6c6c6" stroke-width="1.8"/>
<circle cx="129.62" cy="233.20" r="1.85" fill="#7489a8" stroke="#294a79" stroke-width="0.95"/>
<line x1="111.80" y1="240.60" x2="135.47" y2="240.60" stroke="#c6c6c6" stroke-width="1.8"/>
<circle cx="135.47" cy="240.60" r="1.85" fill="#7489a8" stroke="#294a79" stroke-width="0.95"/>
<text x="248.50" y="146.80" font-size="7.95" text-anchor="middle" fill="#151515" textLength="43.45" lengthAdjust="spacingAndGlyphs" stroke="#151515" stroke-width="0.14">Day 7 pFMT</text>
<line x1="204.50" y1="152.00" x2="204.50" y2="245.10" stroke="#1a1a1a" stroke-width="1"/>
<line x1="204.00" y1="244.60" x2="292.50" y2="244.60" stroke="#1a1a1a" stroke-width="1"/>
<line x1="201.60" y1="156.50" x2="204.50" y2="156.50" stroke="#111" stroke-width="1.1"/>
<line x1="201.60" y1="163.50" x2="204.50" y2="163.50" stroke="#111" stroke-width="1.1"/>
<line x1="201.60" y1="170.60" x2="204.50" y2="170.60" stroke="#111" stroke-width="1.1"/>
<line x1="201.60" y1="177.60" x2="204.50" y2="177.60" stroke="#111" stroke-width="1.1"/>
<line x1="201.60" y1="189.20" x2="204.50" y2="189.20" stroke="#111" stroke-width="1.1"/>
<line x1="201.60" y1="196.50" x2="204.50" y2="196.50" stroke="#111" stroke-width="1.1"/>
<line x1="201.60" y1="203.80" x2="204.50" y2="203.80" stroke="#111" stroke-width="1.1"/>
<line x1="201.60" y1="211.20" x2="204.50" y2="211.20" stroke="#111" stroke-width="1.1"/>
<line x1="201.60" y1="218.60" x2="204.50" y2="218.60" stroke="#111" stroke-width="1.1"/>
<line x1="201.60" y1="225.90" x2="204.50" y2="225.90" stroke="#111" stroke-width="1.1"/>
<line x1="201.60" y1="233.20" x2="204.50" y2="233.20" stroke="#111" stroke-width="1.1"/>
<line x1="201.60" y1="240.60" x2="204.50" y2="240.60" stroke="#111" stroke-width="1.1"/>
<line x1="208.80" y1="244.60" x2="208.80" y2="247.30" stroke="#1a1a1a" stroke-width="1"/>
<text x="208.80" y="255.70" font-size="6.1" text-anchor="middle" fill="#151515" textLength="8.62" lengthAdjust="spacingAndGlyphs"  stroke="#151515" stroke-width="0.1">0.0</text>
<line x1="236.65" y1="244.60" x2="236.65" y2="247.30" stroke="#1a1a1a" stroke-width="1"/>
<text x="236.65" y="255.70" font-size="6.1" text-anchor="middle" fill="#151515" textLength="8.62" lengthAdjust="spacingAndGlyphs"  stroke="#151515" stroke-width="0.1">0.1</text>
<line x1="264.50" y1="244.60" x2="264.50" y2="247.30" stroke="#1a1a1a" stroke-width="1"/>
<text x="264.50" y="255.70" font-size="6.1" text-anchor="middle" fill="#151515" textLength="8.62" lengthAdjust="spacingAndGlyphs"  stroke="#151515" stroke-width="0.1">0.2</text>
<line x1="208.80" y1="156.50" x2="214.09" y2="156.50" stroke="#c6c6c6" stroke-width="1.8"/>
<circle cx="214.09" cy="156.50" r="1.85" fill="#a3d69a" stroke="#4d9e47" stroke-width="0.95"/>
<line x1="208.80" y1="163.50" x2="236.09" y2="163.50" stroke="#c6c6c6" stroke-width="1.8"/>
<circle cx="236.09" cy="163.50" r="1.85" fill="#a3d69a" stroke="#4d9e47" stroke-width="0.95"/>
<line x1="208.80" y1="170.60" x2="224.40" y2="170.60" stroke="#c6c6c6" stroke-width="1.8"/>
<circle cx="224.40" cy="170.60" r="1.85" fill="#a3d69a" stroke="#4d9e47" stroke-width="0.95"/>
<line x1="208.80" y1="177.60" x2="246.68" y2="177.60" stroke="#c6c6c6" stroke-width="1.8"/>
<circle cx="246.68" cy="177.60" r="1.85" fill="#a3d69a" stroke="#4d9e47" stroke-width="0.95"/>
<line x1="208.80" y1="189.20" x2="224.95" y2="189.20" stroke="#c6c6c6" stroke-width="1.8"/>
<circle cx="224.95" cy="189.20" r="1.85" fill="#7489a8" stroke="#294a79" stroke-width="0.95"/>
<line x1="208.80" y1="196.50" x2="218.83" y2="196.50" stroke="#c6c6c6" stroke-width="1.8"/>
<circle cx="218.83" cy="196.50" r="1.85" fill="#7489a8" stroke="#294a79" stroke-width="0.95"/>
<line x1="208.80" y1="203.80" x2="223.00" y2="203.80" stroke="#c6c6c6" stroke-width="1.8"/>
<circle cx="223.00" cy="203.80" r="1.85" fill="#7489a8" stroke="#294a79" stroke-width="0.95"/>
<line x1="208.80" y1="211.20" x2="224.67" y2="211.20" stroke="#c6c6c6" stroke-width="1.8"/>
<circle cx="224.67" cy="211.20" r="1.85" fill="#7489a8" stroke="#294a79" stroke-width="0.95"/>
<line x1="208.80" y1="218.60" x2="216.32" y2="218.60" stroke="#c6c6c6" stroke-width="1.8"/>
<circle cx="216.32" cy="218.60" r="1.85" fill="#7489a8" stroke="#294a79" stroke-width="0.95"/>
<line x1="208.80" y1="225.90" x2="213.53" y2="225.90" stroke="#c6c6c6" stroke-width="1.8"/>
<circle cx="213.53" cy="225.90" r="1.85" fill="#7489a8" stroke="#294a79" stroke-width="0.95"/>
<line x1="208.80" y1="233.20" x2="214.93" y2="233.20" stroke="#c6c6c6" stroke-width="1.8"/>
<circle cx="214.93" cy="233.20" r="1.85" fill="#7489a8" stroke="#294a79" stroke-width="0.95"/>
<line x1="208.80" y1="240.60" x2="259.49" y2="240.60" stroke="#c6c6c6" stroke-width="1.8"/>
<circle cx="259.49" cy="240.60" r="1.85" fill="#7489a8" stroke="#294a79" stroke-width="0.95"/>
<text x="345.50" y="146.80" font-size="7.95" text-anchor="middle" fill="#151515" textLength="47.85" lengthAdjust="spacingAndGlyphs" stroke="#151515" stroke-width="0.14">Day 14 pFMT</text>
<line x1="301.50" y1="152.00" x2="301.50" y2="245.10" stroke="#1a1a1a" stroke-width="1"/>
<line x1="301.00" y1="244.60" x2="389.50" y2="244.60" stroke="#1a1a1a" stroke-width="1"/>
<line x1="298.60" y1="156.50" x2="301.50" y2="156.50" stroke="#111" stroke-width="1.1"/>
<line x1="298.60" y1="163.50" x2="301.50" y2="163.50" stroke="#111" stroke-width="1.1"/>
<line x1="298.60" y1="170.60" x2="301.50" y2="170.60" stroke="#111" stroke-width="1.1"/>
<line x1="298.60" y1="177.60" x2="301.50" y2="177.60" stroke="#111" stroke-width="1.1"/>
<line x1="298.60" y1="189.20" x2="301.50" y2="189.20" stroke="#111" stroke-width="1.1"/>
<line x1="298.60" y1="196.50" x2="301.50" y2="196.50" stroke="#111" stroke-width="1.1"/>
<line x1="298.60" y1="203.80" x2="301.50" y2="203.80" stroke="#111" stroke-width="1.1"/>
<line x1="298.60" y1="211.20" x2="301.50" y2="211.20" stroke="#111" stroke-width="1.1"/>
<line x1="298.60" y1="218.60" x2="301.50" y2="218.60" stroke="#111" stroke-width="1.1"/>
<line x1="298.60" y1="225.90" x2="301.50" y2="225.90" stroke="#111" stroke-width="1.1"/>
<line x1="298.60" y1="233.20" x2="301.50" y2="233.20" stroke="#111" stroke-width="1.1"/>
<line x1="298.60" y1="240.60" x2="301.50" y2="240.60" stroke="#111" stroke-width="1.1"/>
<line x1="305.80" y1="244.60" x2="305.80" y2="247.30" stroke="#1a1a1a" stroke-width="1"/>
<text x="305.80" y="255.70" font-size="6.1" text-anchor="middle" fill="#151515" textLength="8.62" lengthAdjust="spacingAndGlyphs"  stroke="#151515" stroke-width="0.1">0.0</text>
<line x1="333.65" y1="244.60" x2="333.65" y2="247.30" stroke="#1a1a1a" stroke-width="1"/>
<text x="333.65" y="255.70" font-size="6.1" text-anchor="middle" fill="#151515" textLength="8.62" lengthAdjust="spacingAndGlyphs"  stroke="#151515" stroke-width="0.1">0.1</text>
<line x1="361.50" y1="244.60" x2="361.50" y2="247.30" stroke="#1a1a1a" stroke-width="1"/>
<text x="361.50" y="255.70" font-size="6.1" text-anchor="middle" fill="#151515" textLength="8.62" lengthAdjust="spacingAndGlyphs"  stroke="#151515" stroke-width="0.1">0.2</text>
<line x1="305.80" y1="156.50" x2="332.81" y2="156.50" stroke="#c6c6c6" stroke-width="1.8"/>
<circle cx="332.81" cy="156.50" r="1.85" fill="#a3d69a" stroke="#4d9e47" stroke-width="0.95"/>
<line x1="305.80" y1="163.50" x2="317.50" y2="163.50" stroke="#c6c6c6" stroke-width="1.8"/>
<circle cx="317.50" cy="163.50" r="1.85" fill="#a3d69a" stroke="#4d9e47" stroke-width="0.95"/>
<line x1="305.80" y1="170.60" x2="328.64" y2="170.60" stroke="#c6c6c6" stroke-width="1.8"/>
<circle cx="328.64" cy="170.60" r="1.85" fill="#a3d69a" stroke="#4d9e47" stroke-width="0.95"/>
<line x1="305.80" y1="177.60" x2="383.22" y2="177.60" stroke="#c6c6c6" stroke-width="1.8"/>
<circle cx="383.22" cy="177.60" r="1.85" fill="#a3d69a" stroke="#4d9e47" stroke-width="0.95"/>
<circle cx="305.80" cy="189.20" r="1.85" fill="#7489a8" stroke="#294a79" stroke-width="0.95"/>
<line x1="305.80" y1="196.50" x2="317.78" y2="196.50" stroke="#c6c6c6" stroke-width="1.8"/>
<circle cx="317.78" cy="196.50" r="1.85" fill="#7489a8" stroke="#294a79" stroke-width="0.95"/>
<line x1="305.80" y1="203.80" x2="329.19" y2="203.80" stroke="#c6c6c6" stroke-width="1.8"/>
<circle cx="329.19" cy="203.80" r="1.85" fill="#7489a8" stroke="#294a79" stroke-width="0.95"/>
<line x1="305.80" y1="211.20" x2="324.18" y2="211.20" stroke="#c6c6c6" stroke-width="1.8"/>
<circle cx="324.18" cy="211.20" r="1.85" fill="#7489a8" stroke="#294a79" stroke-width="0.95"/>
<line x1="305.80" y1="218.60" x2="310.53" y2="218.60" stroke="#c6c6c6" stroke-width="1.8"/>
<circle cx="310.53" cy="218.60" r="1.85" fill="#7489a8" stroke="#294a79" stroke-width="0.95"/>
<line x1="305.80" y1="225.90" x2="317.78" y2="225.90" stroke="#c6c6c6" stroke-width="1.8"/>
<circle cx="317.78" cy="225.90" r="1.85" fill="#7489a8" stroke="#294a79" stroke-width="0.95"/>
<line x1="305.80" y1="233.20" x2="316.10" y2="233.20" stroke="#c6c6c6" stroke-width="1.8"/>
<circle cx="316.10" cy="233.20" r="1.85" fill="#7489a8" stroke="#294a79" stroke-width="0.95"/>
<line x1="305.80" y1="240.60" x2="364.29" y2="240.60" stroke="#c6c6c6" stroke-width="1.8"/>
<circle cx="364.29" cy="240.60" r="1.85" fill="#7489a8" stroke="#294a79" stroke-width="0.95"/>
<text x="442.50" y="146.80" font-size="7.95" text-anchor="middle" fill="#151515" textLength="47.85" lengthAdjust="spacingAndGlyphs" stroke="#151515" stroke-width="0.14">Day 28 pFMT</text>
<line x1="398.50" y1="152.00" x2="398.50" y2="245.10" stroke="#1a1a1a" stroke-width="1"/>
<line x1="398.00" y1="244.60" x2="486.50" y2="244.60" stroke="#1a1a1a" stroke-width="1"/>
<line x1="395.60" y1="156.50" x2="398.50" y2="156.50" stroke="#111" stroke-width="1.1"/>
<line x1="395.60" y1="163.50" x2="398.50" y2="163.50" stroke="#111" stroke-width="1.1"/>
<line x1="395.60" y1="170.60" x2="398.50" y2="170.60" stroke="#111" stroke-width="1.1"/>
<line x1="395.60" y1="177.60" x2="398.50" y2="177.60" stroke="#111" stroke-width="1.1"/>
<line x1="395.60" y1="189.20" x2="398.50" y2="189.20" stroke="#111" stroke-width="1.1"/>
<line x1="395.60" y1="196.50" x2="398.50" y2="196.50" stroke="#111" stroke-width="1.1"/>
<line x1="395.60" y1="203.80" x2="398.50" y2="203.80" stroke="#111" stroke-width="1.1"/>
<line x1="395.60" y1="211.20" x2="398.50" y2="211.20" stroke="#111" stroke-width="1.1"/>
<line x1="395.60" y1="218.60" x2="398.50" y2="218.60" stroke="#111" stroke-width="1.1"/>
<line x1="395.60" y1="225.90" x2="398.50" y2="225.90" stroke="#111" stroke-width="1.1"/>
<line x1="395.60" y1="233.20" x2="398.50" y2="233.20" stroke="#111" stroke-width="1.1"/>
<line x1="395.60" y1="240.60" x2="398.50" y2="240.60" stroke="#111" stroke-width="1.1"/>
<line x1="402.80" y1="244.60" x2="402.80" y2="247.30" stroke="#1a1a1a" stroke-width="1"/>
<text x="402.80" y="255.70" font-size="6.1" text-anchor="middle" fill="#151515" textLength="8.62" lengthAdjust="spacingAndGlyphs"  stroke="#151515" stroke-width="0.1">0.0</text>
<line x1="430.65" y1="244.60" x2="430.65" y2="247.30" stroke="#1a1a1a" stroke-width="1"/>
<text x="430.65" y="255.70" font-size="6.1" text-anchor="middle" fill="#151515" textLength="8.62" lengthAdjust="spacingAndGlyphs"  stroke="#151515" stroke-width="0.1">0.1</text>
<line x1="458.50" y1="244.60" x2="458.50" y2="247.30" stroke="#1a1a1a" stroke-width="1"/>
<text x="458.50" y="255.70" font-size="6.1" text-anchor="middle" fill="#151515" textLength="8.62" lengthAdjust="spacingAndGlyphs"  stroke="#151515" stroke-width="0.1">0.2</text>
<line x1="402.80" y1="156.50" x2="471.87" y2="156.50" stroke="#c6c6c6" stroke-width="1.8"/>
<circle cx="471.87" cy="156.50" r="1.85" fill="#a3d69a" stroke="#4d9e47" stroke-width="0.95"/>
<line x1="402.80" y1="163.50" x2="410.32" y2="163.50" stroke="#c6c6c6" stroke-width="1.8"/>
<circle cx="410.32" cy="163.50" r="1.85" fill="#a3d69a" stroke="#4d9e47" stroke-width="0.95"/>
<line x1="402.80" y1="170.60" x2="410.32" y2="170.60" stroke="#c6c6c6" stroke-width="1.8"/>
<circle cx="410.32" cy="170.60" r="1.85" fill="#a3d69a" stroke="#4d9e47" stroke-width="0.95"/>
<line x1="402.80" y1="177.60" x2="456.83" y2="177.60" stroke="#c6c6c6" stroke-width="1.8"/>
<circle cx="456.83" cy="177.60" r="1.85" fill="#a3d69a" stroke="#4d9e47" stroke-width="0.95"/>
<circle cx="402.80" cy="189.20" r="1.85" fill="#7489a8" stroke="#294a79" stroke-width="0.95"/>
<line x1="402.80" y1="196.50" x2="405.31" y2="196.50" stroke="#c6c6c6" stroke-width="1.8"/>
<circle cx="405.31" cy="196.50" r="1.85" fill="#7489a8" stroke="#294a79" stroke-width="0.95"/>
<line x1="402.80" y1="203.80" x2="460.45" y2="203.80" stroke="#c6c6c6" stroke-width="1.8"/>
<circle cx="460.45" cy="203.80" r="1.85" fill="#7489a8" stroke="#294a79" stroke-width="0.95"/>
<line x1="402.80" y1="211.20" x2="418.12" y2="211.20" stroke="#c6c6c6" stroke-width="1.8"/>
<circle cx="418.12" cy="211.20" r="1.85" fill="#7489a8" stroke="#294a79" stroke-width="0.95"/>
<circle cx="403.64" cy="218.60" r="1.85" fill="#7489a8" stroke="#294a79" stroke-width="0.95"/>
<line x1="402.80" y1="225.90" x2="422.02" y2="225.90" stroke="#c6c6c6" stroke-width="1.8"/>
<circle cx="422.02" cy="225.90" r="1.85" fill="#7489a8" stroke="#294a79" stroke-width="0.95"/>
<line x1="402.80" y1="233.20" x2="408.65" y2="233.20" stroke="#c6c6c6" stroke-width="1.8"/>
<circle cx="408.65" cy="233.20" r="1.85" fill="#7489a8" stroke="#294a79" stroke-width="0.95"/>
<line x1="402.80" y1="240.60" x2="429.54" y2="240.60" stroke="#c6c6c6" stroke-width="1.8"/>
<circle cx="429.54" cy="240.60" r="1.85" fill="#7489a8" stroke="#294a79" stroke-width="0.95"/>
<text x="490.00" y="166.00" font-size="6.2" text-anchor="start" fill="#151515" textLength="16.2" lengthAdjust="spacingAndGlyphs" stroke="none" fill-opacity="0.92">Donor</text>
<text x="490.00" y="173.40" font-size="6.2" text-anchor="start" fill="#151515" textLength="23.85" lengthAdjust="spacingAndGlyphs" stroke="none" fill-opacity="0.92">exclusive</text>
<text x="490.00" y="217.40" font-size="6.2" text-anchor="start" fill="#151515" textLength="19.02" lengthAdjust="spacingAndGlyphs" stroke="none" fill-opacity="0.92">Shared</text>
<text x="6.80" y="294.00" font-size="10.5" text-anchor="start" fill="#151515" font-weight="bold" stroke="#111" stroke-width="0.45">C</text>
<text x="102.10" y="303.20" font-size="6.25" text-anchor="end" fill="#151515" textLength="73.74" lengthAdjust="spacingAndGlyphs" font-style="italic" stroke="#222" stroke-width="0.08">Faecalibacterium prausnitzii</text>
<text x="102.10" y="310.20" font-size="6.25" text-anchor="end" fill="#151515" textLength="48.29" lengthAdjust="spacingAndGlyphs" font-style="italic" stroke="#222" stroke-width="0.08">Dorea longicatena</text>
<text x="102.10" y="317.30" font-size="6.25" text-anchor="end" fill="#151515" textLength="65.48" lengthAdjust="spacingAndGlyphs" font-style="italic" stroke="#222" stroke-width="0.08">Clostridiaceae bacterium</text>
<text x="102.10" y="324.30" font-size="6.25" text-anchor="end" fill="#151515" textLength="54.57" lengthAdjust="spacingAndGlyphs" font-style="italic" stroke="#222" stroke-width="0.08">Alistipes onderdonkii</text>
<text x="102.10" y="335.90" font-size="6.25" text-anchor="end" fill="#151515" textLength="48.07" lengthAdjust="spacingAndGlyphs" font-style="italic" stroke="#222" stroke-width="0.08">Veillonella parvula</text>
<text x="102.10" y="343.20" font-size="6.25" text-anchor="end" fill="#151515" textLength="59.86" lengthAdjust="spacingAndGlyphs" font-style="italic" stroke="#222" stroke-width="0.08">Ruminococcus gnavus</text>
<text x="102.10" y="350.50" font-size="6.25" text-anchor="end" fill="#151515" textLength="47.3" lengthAdjust="spacingAndGlyphs" font-style="italic" stroke="#222" stroke-width="0.08">Phocaeicola dorei</text>
<text x="102.10" y="357.90" font-size="6.25" text-anchor="end" fill="#151515" textLength="83.0" lengthAdjust="spacingAndGlyphs" font-style="italic" stroke="#222" stroke-width="0.08">Phascolarctobacterium faecium</text>
<text x="102.10" y="365.30" font-size="6.25" text-anchor="end" fill="#151515" textLength="58.53" lengthAdjust="spacingAndGlyphs" font-style="italic" stroke="#222" stroke-width="0.08">Enterocloster aldensis</text>
<text x="102.10" y="372.60" font-size="6.25" text-anchor="end" fill="#151515" textLength="52.57" lengthAdjust="spacingAndGlyphs" font-style="italic" stroke="#222" stroke-width="0.08">Clostridia bacterium</text>
<text x="102.10" y="379.90" font-size="6.25" text-anchor="end" fill="#151515" textLength="50.6" lengthAdjust="spacingAndGlyphs" font-style="italic" stroke="#222" stroke-width="0.08">Bacteroides ovatus</text>
<text x="102.10" y="387.30" font-size="6.25" text-anchor="end" fill="#151515" textLength="65.8" lengthAdjust="spacingAndGlyphs" font-style="italic" stroke="#222" stroke-width="0.08">Akkermansia muciniphila</text>
<text transform="translate(13.60,343.00) rotate(-90)" font-size="7.0" stroke="#1a1a1a" stroke-width="0.12" text-anchor="middle" fill="#1a1a1a" textLength="19.3" lengthAdjust="spacingAndGlyphs">Species</text>
<text x="151.50" y="291.60" font-size="7.95" text-anchor="middle" fill="#151515" textLength="32.29" lengthAdjust="spacingAndGlyphs" stroke="#151515" stroke-width="0.14">Pre–FMT</text>
<line x1="107.50" y1="296.80" x2="107.50" y2="389.90" stroke="#1a1a1a" stroke-width="1"/>
<line x1="107.00" y1="389.40" x2="195.50" y2="389.40" stroke="#1a1a1a" stroke-width="1"/>
<line x1="104.60" y1="301.30" x2="107.50" y2="301.30" stroke="#111" stroke-width="1.1"/>
<line x1="104.60" y1="308.30" x2="107.50" y2="308.30" stroke="#111" stroke-width="1.1"/>
<line x1="104.60" y1="315.40" x2="107.50" y2="315.40" stroke="#111" stroke-width="1.1"/>
<line x1="104.60" y1="322.40" x2="107.50" y2="322.40" stroke="#111" stroke-width="1.1"/>
<line x1="104.60" y1="334.00" x2="107.50" y2="334.00" stroke="#111" stroke-width="1.1"/>
<line x1="104.60" y1="341.30" x2="107.50" y2="341.30" stroke="#111" stroke-width="1.1"/>
<line x1="104.60" y1="348.60" x2="107.50" y2="348.60" stroke="#111" stroke-width="1.1"/>
<line x1="104.60" y1="356.00" x2="107.50" y2="356.00" stroke="#111" stroke-width="1.1"/>
<line x1="104.60" y1="363.40" x2="107.50" y2="363.40" stroke="#111" stroke-width="1.1"/>
<line x1="104.60" y1="370.70" x2="107.50" y2="370.70" stroke="#111" stroke-width="1.1"/>
<line x1="104.60" y1="378.00" x2="107.50" y2="378.00" stroke="#111" stroke-width="1.1"/>
<line x1="104.60" y1="385.40" x2="107.50" y2="385.40" stroke="#111" stroke-width="1.1"/>
<line x1="111.80" y1="389.40" x2="111.80" y2="392.10" stroke="#1a1a1a" stroke-width="1"/>
<text x="111.80" y="400.50" font-size="6.1" text-anchor="middle" fill="#151515" textLength="3.45" lengthAdjust="spacingAndGlyphs"  stroke="#151515" stroke-width="0.1">0</text>
<line x1="134.50" y1="389.40" x2="134.50" y2="392.10" stroke="#1a1a1a" stroke-width="1"/>
<text x="134.50" y="400.50" font-size="6.1" text-anchor="middle" fill="#151515" textLength="6.9" lengthAdjust="spacingAndGlyphs"  stroke="#151515" stroke-width="0.1">25</text>
<line x1="157.20" y1="389.40" x2="157.20" y2="392.10" stroke="#1a1a1a" stroke-width="1"/>
<text x="157.20" y="400.50" font-size="6.1" text-anchor="middle" fill="#151515" textLength="6.9" lengthAdjust="spacingAndGlyphs"  stroke="#151515" stroke-width="0.1">50</text>
<line x1="179.90" y1="389.40" x2="179.90" y2="392.10" stroke="#1a1a1a" stroke-width="1"/>
<text x="179.90" y="400.50" font-size="6.1" text-anchor="middle" fill="#151515" textLength="6.9" lengthAdjust="spacingAndGlyphs"  stroke="#151515" stroke-width="0.1">75</text>
<circle cx="111.80" cy="301.30" r="1.85" fill="#5fbf5a" fill-opacity="0.32" stroke="#3f943b" stroke-width="0.85" stroke-opacity="0.95"/>
<circle cx="111.80" cy="301.30" r="1.85" fill="#5fbf5a" fill-opacity="0.32" stroke="#3f943b" stroke-width="0.85" stroke-opacity="0.95"/>
<circle cx="111.80" cy="301.30" r="1.85" fill="#5fbf5a" fill-opacity="0.32" stroke="#3f943b" stroke-width="0.85" stroke-opacity="0.95"/>
<circle cx="111.80" cy="301.30" r="1.85" fill="#5fbf5a" fill-opacity="0.32" stroke="#3f943b" stroke-width="0.85" stroke-opacity="0.95"/>
<circle cx="111.80" cy="308.30" r="1.85" fill="#5fbf5a" fill-opacity="0.32" stroke="#3f943b" stroke-width="0.85" stroke-opacity="0.95"/>
<circle cx="111.80" cy="308.30" r="1.85" fill="#5fbf5a" fill-opacity="0.32" stroke="#3f943b" stroke-width="0.85" stroke-opacity="0.95"/>
<circle cx="111.80" cy="308.30" r="1.85" fill="#5fbf5a" fill-opacity="0.32" stroke="#3f943b" stroke-width="0.85" stroke-opacity="0.95"/>
<circle cx="111.80" cy="308.30" r="1.85" fill="#5fbf5a" fill-opacity="0.32" stroke="#3f943b" stroke-width="0.85" stroke-opacity="0.95"/>
<circle cx="111.80" cy="315.40" r="1.85" fill="#5fbf5a" fill-opacity="0.32" stroke="#3f943b" stroke-width="0.85" stroke-opacity="0.95"/>
<circle cx="111.80" cy="315.40" r="1.85" fill="#5fbf5a" fill-opacity="0.32" stroke="#3f943b" stroke-width="0.85" stroke-opacity="0.95"/>
<circle cx="111.80" cy="315.40" r="1.85" fill="#5fbf5a" fill-opacity="0.32" stroke="#3f943b" stroke-width="0.85" stroke-opacity="0.95"/>
<circle cx="111.80" cy="315.40" r="1.85" fill="#5fbf5a" fill-opacity="0.32" stroke="#3f943b" stroke-width="0.85" stroke-opacity="0.95"/>
<circle cx="111.80" cy="322.40" r="1.85" fill="#5fbf5a" fill-opacity="0.32" stroke="#3f943b" stroke-width="0.85" stroke-opacity="0.95"/>
<circle cx="111.80" cy="322.40" r="1.85" fill="#5fbf5a" fill-opacity="0.32" stroke="#3f943b" stroke-width="0.85" stroke-opacity="0.95"/>
<circle cx="111.80" cy="322.40" r="1.85" fill="#5fbf5a" fill-opacity="0.32" stroke="#3f943b" stroke-width="0.85" stroke-opacity="0.95"/>
<circle cx="111.80" cy="322.40" r="1.85" fill="#5fbf5a" fill-opacity="0.32" stroke="#3f943b" stroke-width="0.85" stroke-opacity="0.95"/>
<circle cx="111.80" cy="334.00" r="1.85" fill="#3c6497" fill-opacity="0.32" stroke="#264675" stroke-width="0.85" stroke-opacity="0.95"/>
<circle cx="111.80" cy="334.00" r="1.85" fill="#3c6497" fill-opacity="0.32" stroke="#264675" stroke-width="0.85" stroke-opacity="0.95"/>
<circle cx="111.80" cy="334.00" r="1.85" fill="#3c6497" fill-opacity="0.32" stroke="#264675" stroke-width="0.85" stroke-opacity="0.95"/>
<circle cx="111.80" cy="334.00" r="1.85" fill="#3c6497" fill-opacity="0.32" stroke="#264675" stroke-width="0.85" stroke-opacity="0.95"/>
<circle cx="111.80" cy="341.30" r="1.85" fill="#3c6497" fill-opacity="0.32" stroke="#264675" stroke-width="0.85" stroke-opacity="0.95"/>
<circle cx="112.71" cy="341.30" r="1.85" fill="#3c6497" fill-opacity="0.32" stroke="#264675" stroke-width="0.85" stroke-opacity="0.95"/>
<circle cx="113.62" cy="341.30" r="1.85" fill="#3c6497" fill-opacity="0.32" stroke="#264675" stroke-width="0.85" stroke-opacity="0.95"/>
<circle cx="114.52" cy="341.30" r="1.85" fill="#3c6497" fill-opacity="0.32" stroke="#264675" stroke-width="0.85" stroke-opacity="0.95"/>
<circle cx="125.42" cy="341.30" r="1.85" fill="#3c6497" fill-opacity="0.32" stroke="#264675" stroke-width="0.85" stroke-opacity="0.95"/>
<circle cx="127.69" cy="341.30" r="1.85" fill="#3c6497" fill-opacity="0.32" stroke="#264675" stroke-width="0.85" stroke-opacity="0.95"/>
<circle cx="111.80" cy="341.30" r="1.85" fill="#3c6497" fill-opacity="0.32" stroke="#264675" stroke-width="0.85" stroke-opacity="0.95"/>
<circle cx="111.80" cy="341.30" r="1.85" fill="#3c6497" fill-opacity="0.32" stroke="#264675" stroke-width="0.85" stroke-opacity="0.95"/>
<circle cx="111.80" cy="341.30" r="1.85" fill="#3c6497" fill-opacity="0.32" stroke="#264675" stroke-width="0.85" stroke-opacity="0.95"/>
<circle cx="111.80" cy="348.60" r="1.85" fill="#3c6497" fill-opacity="0.32" stroke="#264675" stroke-width="0.85" stroke-opacity="0.95"/>
<circle cx="131.32" cy="348.60" r="1.85" fill="#3c6497" fill-opacity="0.32" stroke="#264675" stroke-width="0.85" stroke-opacity="0.95"/>
<circle cx="140.49" cy="348.60" r="1.85" fill="#3c6497" fill-opacity="0.32" stroke="#264675" stroke-width="0.85" stroke-opacity="0.95"/>
<circle cx="111.80" cy="348.60" r="1.85" fill="#3c6497" fill-opacity="0.32" stroke="#264675" stroke-width="0.85" stroke-opacity="0.95"/>
<circle cx="111.80" cy="348.60" r="1.85" fill="#3c6497" fill-opacity="0.32" stroke="#264675" stroke-width="0.85" stroke-opacity="0.95"/>
<circle cx="111.80" cy="348.60" r="1.85" fill="#3c6497" fill-opacity="0.32" stroke="#264675" stroke-width="0.85" stroke-opacity="0.95"/>
<circle cx="111.80" cy="356.00" r="1.85" fill="#3c6497" fill-opacity="0.32" stroke="#264675" stroke-width="0.85" stroke-opacity="0.95"/>
<circle cx="113.62" cy="356.00" r="1.85" fill="#3c6497" fill-opacity="0.32" stroke="#264675" stroke-width="0.85" stroke-opacity="0.95"/>
<circle cx="115.80" cy="356.00" r="1.85" fill="#3c6497" fill-opacity="0.32" stroke="#264675" stroke-width="0.85" stroke-opacity="0.95"/>
<circle cx="111.80" cy="356.00" r="1.85" fill="#3c6497" fill-opacity="0.32" stroke="#264675" stroke-width="0.85" stroke-opacity="0.95"/>
<circle cx="111.80" cy="356.00" r="1.85" fill="#3c6497" fill-opacity="0.32" stroke="#264675" stroke-width="0.85" stroke-opacity="0.95"/>
<circle cx="111.80" cy="356.00" r="1.85" fill="#3c6497" fill-opacity="0.32" stroke="#264675" stroke-width="0.85" stroke-opacity="0.95"/>
<circle cx="111.80" cy="363.40" r="1.85" fill="#3c6497" fill-opacity="0.32" stroke="#264675" stroke-width="0.85" stroke-opacity="0.95"/>
<circle cx="134.95" cy="363.40" r="1.85" fill="#3c6497" fill-opacity="0.32" stroke="#264675" stroke-width="0.85" stroke-opacity="0.95"/>
<circle cx="111.80" cy="363.40" r="1.85" fill="#3c6497" fill-opacity="0.32" stroke="#264675" stroke-width="0.85" stroke-opacity="0.95"/>
<circle cx="111.80" cy="363.40" r="1.85" fill="#3c6497" fill-opacity="0.32" stroke="#264675" stroke-width="0.85" stroke-opacity="0.95"/>
<circle cx="111.80" cy="363.40" r="1.85" fill="#3c6497" fill-opacity="0.32" stroke="#264675" stroke-width="0.85" stroke-opacity="0.95"/>
<circle cx="111.80" cy="370.70" r="1.85" fill="#3c6497" fill-opacity="0.32" stroke="#264675" stroke-width="0.85" stroke-opacity="0.95"/>
<circle cx="112.71" cy="370.70" r="1.85" fill="#3c6497" fill-opacity="0.32" stroke="#264675" stroke-width="0.85" stroke-opacity="0.95"/>
<circle cx="111.80" cy="370.70" r="1.85" fill="#3c6497" fill-opacity="0.32" stroke="#264675" stroke-width="0.85" stroke-opacity="0.95"/>
<circle cx="111.80" cy="370.70" r="1.85" fill="#3c6497" fill-opacity="0.32" stroke="#264675" stroke-width="0.85" stroke-opacity="0.95"/>
<circle cx="111.80" cy="370.70" r="1.85" fill="#3c6497" fill-opacity="0.32" stroke="#264675" stroke-width="0.85" stroke-opacity="0.95"/>
<circle cx="111.80" cy="378.00" r="1.85" fill="#3c6497" fill-opacity="0.32" stroke="#264675" stroke-width="0.85" stroke-opacity="0.95"/>
<circle cx="124.51" cy="378.00" r="1.85" fill="#3c6497" fill-opacity="0.32" stroke="#264675" stroke-width="0.85" stroke-opacity="0.95"/>
<circle cx="126.33" cy="378.00" r="1.85" fill="#3c6497" fill-opacity="0.32" stroke="#264675" stroke-width="0.85" stroke-opacity="0.95"/>
<circle cx="111.80" cy="378.00" r="1.85" fill="#3c6497" fill-opacity="0.32" stroke="#264675" stroke-width="0.85" stroke-opacity="0.95"/>
<circle cx="111.80" cy="378.00" r="1.85" fill="#3c6497" fill-opacity="0.32" stroke="#264675" stroke-width="0.85" stroke-opacity="0.95"/>
<circle cx="111.80" cy="378.00" r="1.85" fill="#3c6497" fill-opacity="0.32" stroke="#264675" stroke-width="0.85" stroke-opacity="0.95"/>
<circle cx="111.80" cy="385.40" r="1.85" fill="#3c6497" fill-opacity="0.32" stroke="#264675" stroke-width="0.85" stroke-opacity="0.95"/>
<circle cx="118.79" cy="385.40" r="1.85" fill="#3c6497" fill-opacity="0.32" stroke="#264675" stroke-width="0.85" stroke-opacity="0.95"/>
<circle cx="144.31" cy="385.40" r="1.85" fill="#3c6497" fill-opacity="0.32" stroke="#264675" stroke-width="0.85" stroke-opacity="0.95"/>
<circle cx="111.80" cy="385.40" r="1.85" fill="#3c6497" fill-opacity="0.32" stroke="#264675" stroke-width="0.85" stroke-opacity="0.95"/>
<circle cx="111.80" cy="385.40" r="1.85" fill="#3c6497" fill-opacity="0.32" stroke="#264675" stroke-width="0.85" stroke-opacity="0.95"/>
<circle cx="111.80" cy="385.40" r="1.85" fill="#3c6497" fill-opacity="0.32" stroke="#264675" stroke-width="0.85" stroke-opacity="0.95"/>
<text x="248.50" y="291.60" font-size="7.95" text-anchor="middle" fill="#151515" textLength="43.45" lengthAdjust="spacingAndGlyphs" stroke="#151515" stroke-width="0.14">Day 7 pFMT</text>
<line x1="204.50" y1="296.80" x2="204.50" y2="389.90" stroke="#1a1a1a" stroke-width="1"/>
<line x1="204.00" y1="389.40" x2="292.50" y2="389.40" stroke="#1a1a1a" stroke-width="1"/>
<line x1="201.60" y1="301.30" x2="204.50" y2="301.30" stroke="#111" stroke-width="1.1"/>
<line x1="201.60" y1="308.30" x2="204.50" y2="308.30" stroke="#111" stroke-width="1.1"/>
<line x1="201.60" y1="315.40" x2="204.50" y2="315.40" stroke="#111" stroke-width="1.1"/>
<line x1="201.60" y1="322.40" x2="204.50" y2="322.40" stroke="#111" stroke-width="1.1"/>
<line x1="201.60" y1="334.00" x2="204.50" y2="334.00" stroke="#111" stroke-width="1.1"/>
<line x1="201.60" y1="341.30" x2="204.50" y2="341.30" stroke="#111" stroke-width="1.1"/>
<line x1="201.60" y1="348.60" x2="204.50" y2="348.60" stroke="#111" stroke-width="1.1"/>
<line x1="201.60" y1="356.00" x2="204.50" y2="356.00" stroke="#111" stroke-width="1.1"/>
<line x1="201.60" y1="363.40" x2="204.50" y2="363.40" stroke="#111" stroke-width="1.1"/>
<line x1="201.60" y1="370.70" x2="204.50" y2="370.70" stroke="#111" stroke-width="1.1"/>
<line x1="201.60" y1="378.00" x2="204.50" y2="378.00" stroke="#111" stroke-width="1.1"/>
<line x1="201.60" y1="385.40" x2="204.50" y2="385.40" stroke="#111" stroke-width="1.1"/>
<line x1="208.80" y1="389.40" x2="208.80" y2="392.10" stroke="#1a1a1a" stroke-width="1"/>
<text x="208.80" y="400.50" font-size="6.1" text-anchor="middle" fill="#151515" textLength="3.45" lengthAdjust="spacingAndGlyphs"  stroke="#151515" stroke-width="0.1">0</text>
<line x1="231.50" y1="389.40" x2="231.50" y2="392.10" stroke="#1a1a1a" stroke-width="1"/>
<text x="231.50" y="400.50" font-size="6.1" text-anchor="middle" fill="#151515" textLength="6.9" lengthAdjust="spacingAndGlyphs"  stroke="#151515" stroke-width="0.1">25</text>
<line x1="254.20" y1="389.40" x2="254.20" y2="392.10" stroke="#1a1a1a" stroke-width="1"/>
<text x="254.20" y="400.50" font-size="6.1" text-anchor="middle" fill="#151515" textLength="6.9" lengthAdjust="spacingAndGlyphs"  stroke="#151515" stroke-width="0.1">50</text>
<line x1="276.90" y1="389.40" x2="276.90" y2="392.10" stroke="#1a1a1a" stroke-width="1"/>
<text x="276.90" y="400.50" font-size="6.1" text-anchor="middle" fill="#151515" textLength="6.9" lengthAdjust="spacingAndGlyphs"  stroke="#151515" stroke-width="0.1">75</text>
<circle cx="208.80" cy="301.30" r="1.85" fill="#5fbf5a" fill-opacity="0.32" stroke="#3f943b" stroke-width="0.85" stroke-opacity="0.95"/>
<circle cx="210.16" cy="301.30" r="1.85" fill="#5fbf5a" fill-opacity="0.32" stroke="#3f943b" stroke-width="0.85" stroke-opacity="0.95"/>
<circle cx="208.80" cy="301.30" r="1.85" fill="#5fbf5a" fill-opacity="0.32" stroke="#3f943b" stroke-width="0.85" stroke-opacity="0.95"/>
<circle cx="208.80" cy="301.30" r="1.85" fill="#5fbf5a" fill-opacity="0.32" stroke="#3f943b" stroke-width="0.85" stroke-opacity="0.95"/>
<circle cx="208.80" cy="301.30" r="1.85" fill="#5fbf5a" fill-opacity="0.32" stroke="#3f943b" stroke-width="0.85" stroke-opacity="0.95"/>
<circle cx="208.80" cy="308.30" r="1.85" fill="#5fbf5a" fill-opacity="0.32" stroke="#3f943b" stroke-width="0.85" stroke-opacity="0.95"/>
<circle cx="212.43" cy="308.30" r="1.85" fill="#5fbf5a" fill-opacity="0.32" stroke="#3f943b" stroke-width="0.85" stroke-opacity="0.95"/>
<circle cx="239.40" cy="308.30" r="1.85" fill="#5fbf5a" fill-opacity="0.32" stroke="#3f943b" stroke-width="0.85" stroke-opacity="0.95"/>
<circle cx="208.80" cy="308.30" r="1.85" fill="#5fbf5a" fill-opacity="0.32" stroke="#3f943b" stroke-width="0.85" stroke-opacity="0.95"/>
<circle cx="208.80" cy="308.30" r="1.85" fill="#5fbf5a" fill-opacity="0.32" stroke="#3f943b" stroke-width="0.85" stroke-opacity="0.95"/>
<circle cx="208.80" cy="308.30" r="1.85" fill="#5fbf5a" fill-opacity="0.32" stroke="#3f943b" stroke-width="0.85" stroke-opacity="0.95"/>
<circle cx="208.80" cy="315.40" r="1.85" fill="#5fbf5a" fill-opacity="0.32" stroke="#3f943b" stroke-width="0.85" stroke-opacity="0.95"/>
<circle cx="223.69" cy="315.40" r="1.85" fill="#5fbf5a" fill-opacity="0.32" stroke="#3f943b" stroke-width="0.85" stroke-opacity="0.95"/>
<circle cx="208.80" cy="315.40" r="1.85" fill="#5fbf5a" fill-opacity="0.32" stroke="#3f943b" stroke-width="0.85" stroke-opacity="0.95"/>
<circle cx="208.80" cy="315.40" r="1.85" fill="#5fbf5a" fill-opacity="0.32" stroke="#3f943b" stroke-width="0.85" stroke-opacity="0.95"/>
<circle cx="208.80" cy="315.40" r="1.85" fill="#5fbf5a" fill-opacity="0.32" stroke="#3f943b" stroke-width="0.85" stroke-opacity="0.95"/>
<circle cx="208.80" cy="322.40" r="1.85" fill="#5fbf5a" fill-opacity="0.32" stroke="#3f943b" stroke-width="0.85" stroke-opacity="0.95"/>
<circle cx="210.62" cy="322.40" r="1.85" fill="#5fbf5a" fill-opacity="0.32" stroke="#3f943b" stroke-width="0.85" stroke-opacity="0.95"/>
<circle cx="248.39" cy="322.40" r="1.85" fill="#5fbf5a" fill-opacity="0.32" stroke="#3f943b" stroke-width="0.85" stroke-opacity="0.95"/>
<circle cx="208.80" cy="322.40" r="1.85" fill="#5fbf5a" fill-opacity="0.32" stroke="#3f943b" stroke-width="0.85" stroke-opacity="0.95"/>
<circle cx="208.80" cy="322.40" r="1.85" fill="#5fbf5a" fill-opacity="0.32" stroke="#3f943b" stroke-width="0.85" stroke-opacity="0.95"/>
<circle cx="208.80" cy="322.40" r="1.85" fill="#5fbf5a" fill-opacity="0.32" stroke="#3f943b" stroke-width="0.85" stroke-opacity="0.95"/>
<circle cx="208.80" cy="334.00" r="1.85" fill="#3c6497" fill-opacity="0.32" stroke="#264675" stroke-width="0.85" stroke-opacity="0.95"/>
<circle cx="229.68" cy="334.00" r="1.85" fill="#3c6497" fill-opacity="0.32" stroke="#264675" stroke-width="0.85" stroke-opacity="0.95"/>
<circle cx="208.80" cy="334.00" r="1.85" fill="#3c6497" fill-opacity="0.32" stroke="#264675" stroke-width="0.85" stroke-opacity="0.95"/>
<circle cx="208.80" cy="334.00" r="1.85" fill="#3c6497" fill-opacity="0.32" stroke="#264675" stroke-width="0.85" stroke-opacity="0.95"/>
<circle cx="208.80" cy="334.00" r="1.85" fill="#3c6497" fill-opacity="0.32" stroke="#264675" stroke-width="0.85" stroke-opacity="0.95"/>
<circle cx="208.80" cy="341.30" r="1.85" fill="#3c6497" fill-opacity="0.32" stroke="#264675" stroke-width="0.85" stroke-opacity="0.95"/>
<circle cx="210.62" cy="341.30" r="1.85" fill="#3c6497" fill-opacity="0.32" stroke="#264675" stroke-width="0.85" stroke-opacity="0.95"/>
<circle cx="213.98" cy="341.30" r="1.85" fill="#3c6497" fill-opacity="0.32" stroke="#264675" stroke-width="0.85" stroke-opacity="0.95"/>
<circle cx="208.80" cy="341.30" r="1.85" fill="#3c6497" fill-opacity="0.32" stroke="#264675" stroke-width="0.85" stroke-opacity="0.95"/>
<circle cx="208.80" cy="341.30" r="1.85" fill="#3c6497" fill-opacity="0.32" stroke="#264675" stroke-width="0.85" stroke-opacity="0.95"/>
<circle cx="208.80" cy="341.30" r="1.85" fill="#3c6497" fill-opacity="0.32" stroke="#264675" stroke-width="0.85" stroke-opacity="0.95"/>
<circle cx="208.80" cy="348.60" r="1.85" fill="#3c6497" fill-opacity="0.32" stroke="#264675" stroke-width="0.85" stroke-opacity="0.95"/>
<circle cx="210.62" cy="348.60" r="1.85" fill="#3c6497" fill-opacity="0.32" stroke="#264675" stroke-width="0.85" stroke-opacity="0.95"/>
<circle cx="214.25" cy="348.60" r="1.85" fill="#3c6497" fill-opacity="0.32" stroke="#264675" stroke-width="0.85" stroke-opacity="0.95"/>
<circle cx="216.06" cy="348.60" r="1.85" fill="#3c6497" fill-opacity="0.32" stroke="#264675" stroke-width="0.85" stroke-opacity="0.95"/>
<circle cx="208.80" cy="348.60" r="1.85" fill="#3c6497" fill-opacity="0.32" stroke="#264675" stroke-width="0.85" stroke-opacity="0.95"/>
<circle cx="208.80" cy="348.60" r="1.85" fill="#3c6497" fill-opacity="0.32" stroke="#264675" stroke-width="0.85" stroke-opacity="0.95"/>
<circle cx="208.80" cy="348.60" r="1.85" fill="#3c6497" fill-opacity="0.32" stroke="#264675" stroke-width="0.85" stroke-opacity="0.95"/>
<circle cx="208.80" cy="356.00" r="1.85" fill="#3c6497" fill-opacity="0.32" stroke="#264675" stroke-width="0.85" stroke-opacity="0.95"/>
<circle cx="212.89" cy="356.00" r="1.85" fill="#3c6497" fill-opacity="0.32" stroke="#264675" stroke-width="0.85" stroke-opacity="0.95"/>
<circle cx="220.15" cy="356.00" r="1.85" fill="#3c6497" fill-opacity="0.32" stroke="#264675" stroke-width="0.85" stroke-opacity="0.95"/>
<circle cx="208.80" cy="356.00" r="1.85" fill="#3c6497" fill-opacity="0.32" stroke="#264675" stroke-width="0.85" stroke-opacity="0.95"/>
<circle cx="208.80" cy="356.00" r="1.85" fill="#3c6497" fill-opacity="0.32" stroke="#264675" stroke-width="0.85" stroke-opacity="0.95"/>
<circle cx="208.80" cy="356.00" r="1.85" fill="#3c6497" fill-opacity="0.32" stroke="#264675" stroke-width="0.85" stroke-opacity="0.95"/>
<circle cx="208.80" cy="363.40" r="1.85" fill="#3c6497" fill-opacity="0.32" stroke="#264675" stroke-width="0.85" stroke-opacity="0.95"/>
<circle cx="210.62" cy="363.40" r="1.85" fill="#3c6497" fill-opacity="0.32" stroke="#264675" stroke-width="0.85" stroke-opacity="0.95"/>
<circle cx="215.16" cy="363.40" r="1.85" fill="#3c6497" fill-opacity="0.32" stroke="#264675" stroke-width="0.85" stroke-opacity="0.95"/>
<circle cx="208.80" cy="363.40" r="1.85" fill="#3c6497" fill-opacity="0.32" stroke="#264675" stroke-width="0.85" stroke-opacity="0.95"/>
<circle cx="208.80" cy="363.40" r="1.85" fill="#3c6497" fill-opacity="0.32" stroke="#264675" stroke-width="0.85" stroke-opacity="0.95"/>
<circle cx="208.80" cy="363.40" r="1.85" fill="#3c6497" fill-opacity="0.32" stroke="#264675" stroke-width="0.85" stroke-opacity="0.95"/>
<circle cx="208.80" cy="370.70" r="1.85" fill="#3c6497" fill-opacity="0.32" stroke="#264675" stroke-width="0.85" stroke-opacity="0.95"/>
<circle cx="210.62" cy="370.70" r="1.85" fill="#3c6497" fill-opacity="0.32" stroke="#264675" stroke-width="0.85" stroke-opacity="0.95"/>
<circle cx="211.98" cy="370.70" r="1.85" fill="#3c6497" fill-opacity="0.32" stroke="#264675" stroke-width="0.85" stroke-opacity="0.95"/>
<circle cx="208.80" cy="370.70" r="1.85" fill="#3c6497" fill-opacity="0.32" stroke="#264675" stroke-width="0.85" stroke-opacity="0.95"/>
<circle cx="208.80" cy="370.70" r="1.85" fill="#3c6497" fill-opacity="0.32" stroke="#264675" stroke-width="0.85" stroke-opacity="0.95"/>
<circle cx="208.80" cy="370.70" r="1.85" fill="#3c6497" fill-opacity="0.32" stroke="#264675" stroke-width="0.85" stroke-opacity="0.95"/>
<circle cx="208.80" cy="378.00" r="1.85" fill="#3c6497" fill-opacity="0.32" stroke="#264675" stroke-width="0.85" stroke-opacity="0.95"/>
<circle cx="210.62" cy="378.00" r="1.85" fill="#3c6497" fill-opacity="0.32" stroke="#264675" stroke-width="0.85" stroke-opacity="0.95"/>
<circle cx="212.43" cy="378.00" r="1.85" fill="#3c6497" fill-opacity="0.32" stroke="#264675" stroke-width="0.85" stroke-opacity="0.95"/>
<circle cx="208.80" cy="378.00" r="1.85" fill="#3c6497" fill-opacity="0.32" stroke="#264675" stroke-width="0.85" stroke-opacity="0.95"/>
<circle cx="208.80" cy="378.00" r="1.85" fill="#3c6497" fill-opacity="0.32" stroke="#264675" stroke-width="0.85" stroke-opacity="0.95"/>
<circle cx="208.80" cy="378.00" r="1.85" fill="#3c6497" fill-opacity="0.32" stroke="#264675" stroke-width="0.85" stroke-opacity="0.95"/>
<circle cx="208.80" cy="385.40" r="1.85" fill="#3c6497" fill-opacity="0.32" stroke="#264675" stroke-width="0.85" stroke-opacity="0.95"/>
<circle cx="211.52" cy="385.40" r="1.85" fill="#3c6497" fill-opacity="0.32" stroke="#264675" stroke-width="0.85" stroke-opacity="0.95"/>
<circle cx="220.15" cy="385.40" r="1.85" fill="#3c6497" fill-opacity="0.32" stroke="#264675" stroke-width="0.85" stroke-opacity="0.95"/>
<circle cx="242.85" cy="385.40" r="1.85" fill="#3c6497" fill-opacity="0.32" stroke="#264675" stroke-width="0.85" stroke-opacity="0.95"/>
<circle cx="208.80" cy="385.40" r="1.85" fill="#3c6497" fill-opacity="0.32" stroke="#264675" stroke-width="0.85" stroke-opacity="0.95"/>
<circle cx="208.80" cy="385.40" r="1.85" fill="#3c6497" fill-opacity="0.32" stroke="#264675" stroke-width="0.85" stroke-opacity="0.95"/>
<circle cx="208.80" cy="385.40" r="1.85" fill="#3c6497" fill-opacity="0.32" stroke="#264675" stroke-width="0.85" stroke-opacity="0.95"/>
<text x="345.50" y="291.60" font-size="7.95" text-anchor="middle" fill="#151515" textLength="47.85" lengthAdjust="spacingAndGlyphs" stroke="#151515" stroke-width="0.14">Day 14 pFMT</text>
<line x1="301.50" y1="296.80" x2="301.50" y2="389.90" stroke="#1a1a1a" stroke-width="1"/>
<line x1="301.00" y1="389.40" x2="389.50" y2="389.40" stroke="#1a1a1a" stroke-width="1"/>
<line x1="298.60" y1="301.30" x2="301.50" y2="301.30" stroke="#111" stroke-width="1.1"/>
<line x1="298.60" y1="308.30" x2="301.50" y2="308.30" stroke="#111" stroke-width="1.1"/>
<line x1="298.60" y1="315.40" x2="301.50" y2="315.40" stroke="#111" stroke-width="1.1"/>
<line x1="298.60" y1="322.40" x2="301.50" y2="322.40" stroke="#111" stroke-width="1.1"/>
<line x1="298.60" y1="334.00" x2="301.50" y2="334.00" stroke="#111" stroke-width="1.1"/>
<line x1="298.60" y1="341.30" x2="301.50" y2="341.30" stroke="#111" stroke-width="1.1"/>
<line x1="298.60" y1="348.60" x2="301.50" y2="348.60" stroke="#111" stroke-width="1.1"/>
<line x1="298.60" y1="356.00" x2="301.50" y2="356.00" stroke="#111" stroke-width="1.1"/>
<line x1="298.60" y1="363.40" x2="301.50" y2="363.40" stroke="#111" stroke-width="1.1"/>
<line x1="298.60" y1="370.70" x2="301.50" y2="370.70" stroke="#111" stroke-width="1.1"/>
<line x1="298.60" y1="378.00" x2="301.50" y2="378.00" stroke="#111" stroke-width="1.1"/>
<line x1="298.60" y1="385.40" x2="301.50" y2="385.40" stroke="#111" stroke-width="1.1"/>
<line x1="305.80" y1="389.40" x2="305.80" y2="392.10" stroke="#1a1a1a" stroke-width="1"/>
<text x="305.80" y="400.50" font-size="6.1" text-anchor="middle" fill="#151515" textLength="3.45" lengthAdjust="spacingAndGlyphs"  stroke="#151515" stroke-width="0.1">0</text>
<line x1="328.50" y1="389.40" x2="328.50" y2="392.10" stroke="#1a1a1a" stroke-width="1"/>
<text x="328.50" y="400.50" font-size="6.1" text-anchor="middle" fill="#151515" textLength="6.9" lengthAdjust="spacingAndGlyphs"  stroke="#151515" stroke-width="0.1">25</text>
<line x1="351.20" y1="389.40" x2="351.20" y2="392.10" stroke="#1a1a1a" stroke-width="1"/>
<text x="351.20" y="400.50" font-size="6.1" text-anchor="middle" fill="#151515" textLength="6.9" lengthAdjust="spacingAndGlyphs"  stroke="#151515" stroke-width="0.1">50</text>
<line x1="373.90" y1="389.40" x2="373.90" y2="392.10" stroke="#1a1a1a" stroke-width="1"/>
<text x="373.90" y="400.50" font-size="6.1" text-anchor="middle" fill="#151515" textLength="6.9" lengthAdjust="spacingAndGlyphs"  stroke="#151515" stroke-width="0.1">75</text>
<circle cx="305.80" cy="301.30" r="1.85" fill="#5fbf5a" fill-opacity="0.32" stroke="#3f943b" stroke-width="0.85" stroke-opacity="0.95"/>
<circle cx="307.62" cy="301.30" r="1.85" fill="#5fbf5a" fill-opacity="0.32" stroke="#3f943b" stroke-width="0.85" stroke-opacity="0.95"/>
<circle cx="315.79" cy="301.30" r="1.85" fill="#5fbf5a" fill-opacity="0.32" stroke="#3f943b" stroke-width="0.85" stroke-opacity="0.95"/>
<circle cx="305.80" cy="301.30" r="1.85" fill="#5fbf5a" fill-opacity="0.32" stroke="#3f943b" stroke-width="0.85" stroke-opacity="0.95"/>
<circle cx="305.80" cy="301.30" r="1.85" fill="#5fbf5a" fill-opacity="0.32" stroke="#3f943b" stroke-width="0.85" stroke-opacity="0.95"/>
<circle cx="305.80" cy="301.30" r="1.85" fill="#5fbf5a" fill-opacity="0.32" stroke="#3f943b" stroke-width="0.85" stroke-opacity="0.95"/>
<circle cx="305.80" cy="308.30" r="1.85" fill="#5fbf5a" fill-opacity="0.32" stroke="#3f943b" stroke-width="0.85" stroke-opacity="0.95"/>
<circle cx="307.62" cy="308.30" r="1.85" fill="#5fbf5a" fill-opacity="0.32" stroke="#3f943b" stroke-width="0.85" stroke-opacity="0.95"/>
<circle cx="310.34" cy="308.30" r="1.85" fill="#5fbf5a" fill-opacity="0.32" stroke="#3f943b" stroke-width="0.85" stroke-opacity="0.95"/>
<circle cx="305.80" cy="308.30" r="1.85" fill="#5fbf5a" fill-opacity="0.32" stroke="#3f943b" stroke-width="0.85" stroke-opacity="0.95"/>
<circle cx="305.80" cy="308.30" r="1.85" fill="#5fbf5a" fill-opacity="0.32" stroke="#3f943b" stroke-width="0.85" stroke-opacity="0.95"/>
<circle cx="305.80" cy="308.30" r="1.85" fill="#5fbf5a" fill-opacity="0.32" stroke="#3f943b" stroke-width="0.85" stroke-opacity="0.95"/>
<circle cx="305.80" cy="315.40" r="1.85" fill="#5fbf5a" fill-opacity="0.32" stroke="#3f943b" stroke-width="0.85" stroke-opacity="0.95"/>
<circle cx="317.15" cy="315.40" r="1.85" fill="#5fbf5a" fill-opacity="0.32" stroke="#3f943b" stroke-width="0.85" stroke-opacity="0.95"/>
<circle cx="305.80" cy="315.40" r="1.85" fill="#5fbf5a" fill-opacity="0.32" stroke="#3f943b" stroke-width="0.85" stroke-opacity="0.95"/>
<circle cx="305.80" cy="315.40" r="1.85" fill="#5fbf5a" fill-opacity="0.32" stroke="#3f943b" stroke-width="0.85" stroke-opacity="0.95"/>
<circle cx="305.80" cy="315.40" r="1.85" fill="#5fbf5a" fill-opacity="0.32" stroke="#3f943b" stroke-width="0.85" stroke-opacity="0.95"/>
<circle cx="305.80" cy="322.40" r="1.85" fill="#5fbf5a" fill-opacity="0.32" stroke="#3f943b" stroke-width="0.85" stroke-opacity="0.95"/>
<circle cx="307.62" cy="322.40" r="1.85" fill="#5fbf5a" fill-opacity="0.32" stroke="#3f943b" stroke-width="0.85" stroke-opacity="0.95"/>
<circle cx="313.97" cy="322.40" r="1.85" fill="#5fbf5a" fill-opacity="0.32" stroke="#3f943b" stroke-width="0.85" stroke-opacity="0.95"/>
<circle cx="352.11" cy="322.40" r="1.85" fill="#5fbf5a" fill-opacity="0.32" stroke="#3f943b" stroke-width="0.85" stroke-opacity="0.95"/>
<circle cx="305.80" cy="322.40" r="1.85" fill="#5fbf5a" fill-opacity="0.32" stroke="#3f943b" stroke-width="0.85" stroke-opacity="0.95"/>
<circle cx="305.80" cy="322.40" r="1.85" fill="#5fbf5a" fill-opacity="0.32" stroke="#3f943b" stroke-width="0.85" stroke-opacity="0.95"/>
<circle cx="305.80" cy="322.40" r="1.85" fill="#5fbf5a" fill-opacity="0.32" stroke="#3f943b" stroke-width="0.85" stroke-opacity="0.95"/>
<circle cx="305.80" cy="334.00" r="1.85" fill="#3c6497" fill-opacity="0.32" stroke="#264675" stroke-width="0.85" stroke-opacity="0.95"/>
<circle cx="305.80" cy="334.00" r="1.85" fill="#3c6497" fill-opacity="0.32" stroke="#264675" stroke-width="0.85" stroke-opacity="0.95"/>
<circle cx="305.80" cy="334.00" r="1.85" fill="#3c6497" fill-opacity="0.32" stroke="#264675" stroke-width="0.85" stroke-opacity="0.95"/>
<circle cx="305.80" cy="334.00" r="1.85" fill="#3c6497" fill-opacity="0.32" stroke="#264675" stroke-width="0.85" stroke-opacity="0.95"/>
<circle cx="305.80" cy="341.30" r="1.85" fill="#3c6497" fill-opacity="0.32" stroke="#264675" stroke-width="0.85" stroke-opacity="0.95"/>
<circle cx="311.25" cy="341.30" r="1.85" fill="#3c6497" fill-opacity="0.32" stroke="#264675" stroke-width="0.85" stroke-opacity="0.95"/>
<circle cx="305.80" cy="341.30" r="1.85" fill="#3c6497" fill-opacity="0.32" stroke="#264675" stroke-width="0.85" stroke-opacity="0.95"/>
<circle cx="305.80" cy="341.30" r="1.85" fill="#3c6497" fill-opacity="0.32" stroke="#264675" stroke-width="0.85" stroke-opacity="0.95"/>
<circle cx="305.80" cy="341.30" r="1.85" fill="#3c6497" fill-opacity="0.32" stroke="#264675" stroke-width="0.85" stroke-opacity="0.95"/>
<circle cx="305.80" cy="348.60" r="1.85" fill="#3c6497" fill-opacity="0.32" stroke="#264675" stroke-width="0.85" stroke-opacity="0.95"/>
<circle cx="307.62" cy="348.60" r="1.85" fill="#3c6497" fill-opacity="0.32" stroke="#264675" stroke-width="0.85" stroke-opacity="0.95"/>
<circle cx="309.43" cy="348.60" r="1.85" fill="#3c6497" fill-opacity="0.32" stroke="#264675" stroke-width="0.85" stroke-opacity="0.95"/>
<circle cx="311.25" cy="348.60" r="1.85" fill="#3c6497" fill-opacity="0.32" stroke="#264675" stroke-width="0.85" stroke-opacity="0.95"/>
<circle cx="313.06" cy="348.60" r="1.85" fill="#3c6497" fill-opacity="0.32" stroke="#264675" stroke-width="0.85" stroke-opacity="0.95"/>
<circle cx="305.80" cy="348.60" r="1.85" fill="#3c6497" fill-opacity="0.32" stroke="#264675" stroke-width="0.85" stroke-opacity="0.95"/>
<circle cx="305.80" cy="348.60" r="1.85" fill="#3c6497" fill-opacity="0.32" stroke="#264675" stroke-width="0.85" stroke-opacity="0.95"/>
<circle cx="305.80" cy="348.60" r="1.85" fill="#3c6497" fill-opacity="0.32" stroke="#264675" stroke-width="0.85" stroke-opacity="0.95"/>
<circle cx="305.80" cy="356.00" r="1.85" fill="#3c6497" fill-opacity="0.32" stroke="#264675" stroke-width="0.85" stroke-opacity="0.95"/>
<circle cx="308.52" cy="356.00" r="1.85" fill="#3c6497" fill-opacity="0.32" stroke="#264675" stroke-width="0.85" stroke-opacity="0.95"/>
<circle cx="310.34" cy="356.00" r="1.85" fill="#3c6497" fill-opacity="0.32" stroke="#264675" stroke-width="0.85" stroke-opacity="0.95"/>
<circle cx="305.80" cy="356.00" r="1.85" fill="#3c6497" fill-opacity="0.32" stroke="#264675" stroke-width="0.85" stroke-opacity="0.95"/>
<circle cx="305.80" cy="356.00" r="1.85" fill="#3c6497" fill-opacity="0.32" stroke="#264675" stroke-width="0.85" stroke-opacity="0.95"/>
<circle cx="305.80" cy="356.00" r="1.85" fill="#3c6497" fill-opacity="0.32" stroke="#264675" stroke-width="0.85" stroke-opacity="0.95"/>
<circle cx="305.80" cy="363.40" r="1.85" fill="#3c6497" fill-opacity="0.32" stroke="#264675" stroke-width="0.85" stroke-opacity="0.95"/>
<circle cx="308.52" cy="363.40" r="1.85" fill="#3c6497" fill-opacity="0.32" stroke="#264675" stroke-width="0.85" stroke-opacity="0.95"/>
<circle cx="305.80" cy="363.40" r="1.85" fill="#3c6497" fill-opacity="0.32" stroke="#264675" stroke-width="0.85" stroke-opacity="0.95"/>
<circle cx="305.80" cy="363.40" r="1.85" fill="#3c6497" fill-opacity="0.32" stroke="#264675" stroke-width="0.85" stroke-opacity="0.95"/>
<circle cx="305.80" cy="363.40" r="1.85" fill="#3c6497" fill-opacity="0.32" stroke="#264675" stroke-width="0.85" stroke-opacity="0.95"/>
<circle cx="305.80" cy="370.70" r="1.85" fill="#3c6497" fill-opacity="0.32" stroke="#264675" stroke-width="0.85" stroke-opacity="0.95"/>
<circle cx="307.62" cy="370.70" r="1.85" fill="#3c6497" fill-opacity="0.32" stroke="#264675" stroke-width="0.85" stroke-opacity="0.95"/>
<circle cx="309.43" cy="370.70" r="1.85" fill="#3c6497" fill-opacity="0.32" stroke="#264675" stroke-width="0.85" stroke-opacity="0.95"/>
<circle cx="305.80" cy="370.70" r="1.85" fill="#3c6497" fill-opacity="0.32" stroke="#264675" stroke-width="0.85" stroke-opacity="0.95"/>
<circle cx="305.80" cy="370.70" r="1.85" fill="#3c6497" fill-opacity="0.32" stroke="#264675" stroke-width="0.85" stroke-opacity="0.95"/>
<circle cx="305.80" cy="370.70" r="1.85" fill="#3c6497" fill-opacity="0.32" stroke="#264675" stroke-width="0.85" stroke-opacity="0.95"/>
<circle cx="305.80" cy="378.00" r="1.85" fill="#3c6497" fill-opacity="0.32" stroke="#264675" stroke-width="0.85" stroke-opacity="0.95"/>
<circle cx="311.25" cy="378.00" r="1.85" fill="#3c6497" fill-opacity="0.32" stroke="#264675" stroke-width="0.85" stroke-opacity="0.95"/>
<circle cx="305.80" cy="378.00" r="1.85" fill="#3c6497" fill-opacity="0.32" stroke="#264675" stroke-width="0.85" stroke-opacity="0.95"/>
<circle cx="305.80" cy="378.00" r="1.85" fill="#3c6497" fill-opacity="0.32" stroke="#264675" stroke-width="0.85" stroke-opacity="0.95"/>
<circle cx="305.80" cy="378.00" r="1.85" fill="#3c6497" fill-opacity="0.32" stroke="#264675" stroke-width="0.85" stroke-opacity="0.95"/>
<circle cx="305.80" cy="385.40" r="1.85" fill="#3c6497" fill-opacity="0.32" stroke="#264675" stroke-width="0.85" stroke-opacity="0.95"/>
<circle cx="309.43" cy="385.40" r="1.85" fill="#3c6497" fill-opacity="0.32" stroke="#264675" stroke-width="0.85" stroke-opacity="0.95"/>
<circle cx="319.87" cy="385.40" r="1.85" fill="#3c6497" fill-opacity="0.32" stroke="#264675" stroke-width="0.85" stroke-opacity="0.95"/>
<circle cx="324.87" cy="385.40" r="1.85" fill="#3c6497" fill-opacity="0.32" stroke="#264675" stroke-width="0.85" stroke-opacity="0.95"/>
<circle cx="305.80" cy="385.40" r="1.85" fill="#3c6497" fill-opacity="0.32" stroke="#264675" stroke-width="0.85" stroke-opacity="0.95"/>
<circle cx="305.80" cy="385.40" r="1.85" fill="#3c6497" fill-opacity="0.32" stroke="#264675" stroke-width="0.85" stroke-opacity="0.95"/>
<circle cx="305.80" cy="385.40" r="1.85" fill="#3c6497" fill-opacity="0.32" stroke="#264675" stroke-width="0.85" stroke-opacity="0.95"/>
<text x="442.50" y="291.60" font-size="7.95" text-anchor="middle" fill="#151515" textLength="47.85" lengthAdjust="spacingAndGlyphs" stroke="#151515" stroke-width="0.14">Day 28 pFMT</text>
<line x1="398.50" y1="296.80" x2="398.50" y2="389.90" stroke="#1a1a1a" stroke-width="1"/>
<line x1="398.00" y1="389.40" x2="486.50" y2="389.40" stroke="#1a1a1a" stroke-width="1"/>
<line x1="395.60" y1="301.30" x2="398.50" y2="301.30" stroke="#111" stroke-width="1.1"/>
<line x1="395.60" y1="308.30" x2="398.50" y2="308.30" stroke="#111" stroke-width="1.1"/>
<line x1="395.60" y1="315.40" x2="398.50" y2="315.40" stroke="#111" stroke-width="1.1"/>
<line x1="395.60" y1="322.40" x2="398.50" y2="322.40" stroke="#111" stroke-width="1.1"/>
<line x1="395.60" y1="334.00" x2="398.50" y2="334.00" stroke="#111" stroke-width="1.1"/>
<line x1="395.60" y1="341.30" x2="398.50" y2="341.30" stroke="#111" stroke-width="1.1"/>
<line x1="395.60" y1="348.60" x2="398.50" y2="348.60" stroke="#111" stroke-width="1.1"/>
<line x1="395.60" y1="356.00" x2="398.50" y2="356.00" stroke="#111" stroke-width="1.1"/>
<line x1="395.60" y1="363.40" x2="398.50" y2="363.40" stroke="#111" stroke-width="1.1"/>
<line x1="395.60" y1="370.70" x2="398.50" y2="370.70" stroke="#111" stroke-width="1.1"/>
<line x1="395.60" y1="378.00" x2="398.50" y2="378.00" stroke="#111" stroke-width="1.1"/>
<line x1="395.60" y1="385.40" x2="398.50" y2="385.40" stroke="#111" stroke-width="1.1"/>
<line x1="402.80" y1="389.40" x2="402.80" y2="392.10" stroke="#1a1a1a" stroke-width="1"/>
<text x="402.80" y="400.50" font-size="6.1" text-anchor="middle" fill="#151515" textLength="3.45" lengthAdjust="spacingAndGlyphs"  stroke="#151515" stroke-width="0.1">0</text>
<line x1="425.50" y1="389.40" x2="425.50" y2="392.10" stroke="#1a1a1a" stroke-width="1"/>
<text x="425.50" y="400.50" font-size="6.1" text-anchor="middle" fill="#151515" textLength="6.9" lengthAdjust="spacingAndGlyphs"  stroke="#151515" stroke-width="0.1">25</text>
<line x1="448.20" y1="389.40" x2="448.20" y2="392.10" stroke="#1a1a1a" stroke-width="1"/>
<text x="448.20" y="400.50" font-size="6.1" text-anchor="middle" fill="#151515" textLength="6.9" lengthAdjust="spacingAndGlyphs"  stroke="#151515" stroke-width="0.1">50</text>
<line x1="470.90" y1="389.40" x2="470.90" y2="392.10" stroke="#1a1a1a" stroke-width="1"/>
<text x="470.90" y="400.50" font-size="6.1" text-anchor="middle" fill="#151515" textLength="6.9" lengthAdjust="spacingAndGlyphs"  stroke="#151515" stroke-width="0.1">75</text>
<circle cx="402.80" cy="301.30" r="1.85" fill="#5fbf5a" fill-opacity="0.32" stroke="#3f943b" stroke-width="0.85" stroke-opacity="0.95"/>
<circle cx="407.79" cy="301.30" r="1.85" fill="#5fbf5a" fill-opacity="0.32" stroke="#3f943b" stroke-width="0.85" stroke-opacity="0.95"/>
<circle cx="413.51" cy="301.30" r="1.85" fill="#5fbf5a" fill-opacity="0.32" stroke="#3f943b" stroke-width="0.85" stroke-opacity="0.95"/>
<circle cx="407.79" cy="301.30" r="1.85" fill="#5fbf5a" fill-opacity="0.32" stroke="#3f943b" stroke-width="0.85" stroke-opacity="0.95"/>
<circle cx="413.51" cy="301.30" r="1.85" fill="#5fbf5a" fill-opacity="0.32" stroke="#3f943b" stroke-width="0.85" stroke-opacity="0.95"/>
<circle cx="407.79" cy="301.30" r="1.85" fill="#5fbf5a" fill-opacity="0.32" stroke="#3f943b" stroke-width="0.85" stroke-opacity="0.95"/>
<circle cx="413.51" cy="301.30" r="1.85" fill="#5fbf5a" fill-opacity="0.32" stroke="#3f943b" stroke-width="0.85" stroke-opacity="0.95"/>
<circle cx="402.80" cy="301.30" r="1.85" fill="#5fbf5a" fill-opacity="0.32" stroke="#3f943b" stroke-width="0.85" stroke-opacity="0.95"/>
<circle cx="402.80" cy="301.30" r="1.85" fill="#5fbf5a" fill-opacity="0.32" stroke="#3f943b" stroke-width="0.85" stroke-opacity="0.95"/>
<circle cx="402.80" cy="301.30" r="1.85" fill="#5fbf5a" fill-opacity="0.32" stroke="#3f943b" stroke-width="0.85" stroke-opacity="0.95"/>
<circle cx="402.80" cy="308.30" r="1.85" fill="#5fbf5a" fill-opacity="0.32" stroke="#3f943b" stroke-width="0.85" stroke-opacity="0.95"/>
<circle cx="404.62" cy="308.30" r="1.85" fill="#5fbf5a" fill-opacity="0.32" stroke="#3f943b" stroke-width="0.85" stroke-opacity="0.95"/>
<circle cx="410.06" cy="308.30" r="1.85" fill="#5fbf5a" fill-opacity="0.32" stroke="#3f943b" stroke-width="0.85" stroke-opacity="0.95"/>
<circle cx="402.80" cy="308.30" r="1.85" fill="#5fbf5a" fill-opacity="0.32" stroke="#3f943b" stroke-width="0.85" stroke-opacity="0.95"/>
<circle cx="402.80" cy="308.30" r="1.85" fill="#5fbf5a" fill-opacity="0.32" stroke="#3f943b" stroke-width="0.85" stroke-opacity="0.95"/>
<circle cx="402.80" cy="308.30" r="1.85" fill="#5fbf5a" fill-opacity="0.32" stroke="#3f943b" stroke-width="0.85" stroke-opacity="0.95"/>
<circle cx="402.80" cy="315.40" r="1.85" fill="#5fbf5a" fill-opacity="0.32" stroke="#3f943b" stroke-width="0.85" stroke-opacity="0.95"/>
<circle cx="404.62" cy="315.40" r="1.85" fill="#5fbf5a" fill-opacity="0.32" stroke="#3f943b" stroke-width="0.85" stroke-opacity="0.95"/>
<circle cx="402.80" cy="315.40" r="1.85" fill="#5fbf5a" fill-opacity="0.32" stroke="#3f943b" stroke-width="0.85" stroke-opacity="0.95"/>
<circle cx="402.80" cy="315.40" r="1.85" fill="#5fbf5a" fill-opacity="0.32" stroke="#3f943b" stroke-width="0.85" stroke-opacity="0.95"/>
<circle cx="402.80" cy="315.40" r="1.85" fill="#5fbf5a" fill-opacity="0.32" stroke="#3f943b" stroke-width="0.85" stroke-opacity="0.95"/>
<circle cx="402.80" cy="322.40" r="1.85" fill="#5fbf5a" fill-opacity="0.32" stroke="#3f943b" stroke-width="0.85" stroke-opacity="0.95"/>
<circle cx="404.62" cy="322.40" r="1.85" fill="#5fbf5a" fill-opacity="0.32" stroke="#3f943b" stroke-width="0.85" stroke-opacity="0.95"/>
<circle cx="409.61" cy="322.40" r="1.85" fill="#5fbf5a" fill-opacity="0.32" stroke="#3f943b" stroke-width="0.85" stroke-opacity="0.95"/>
<circle cx="417.33" cy="322.40" r="1.85" fill="#5fbf5a" fill-opacity="0.32" stroke="#3f943b" stroke-width="0.85" stroke-opacity="0.95"/>
<circle cx="402.80" cy="322.40" r="1.85" fill="#5fbf5a" fill-opacity="0.32" stroke="#3f943b" stroke-width="0.85" stroke-opacity="0.95"/>
<circle cx="402.80" cy="322.40" r="1.85" fill="#5fbf5a" fill-opacity="0.32" stroke="#3f943b" stroke-width="0.85" stroke-opacity="0.95"/>
<circle cx="402.80" cy="322.40" r="1.85" fill="#5fbf5a" fill-opacity="0.32" stroke="#3f943b" stroke-width="0.85" stroke-opacity="0.95"/>
<circle cx="402.80" cy="334.00" r="1.85" fill="#3c6497" fill-opacity="0.32" stroke="#264675" stroke-width="0.85" stroke-opacity="0.95"/>
<circle cx="410.97" cy="334.00" r="1.85" fill="#3c6497" fill-opacity="0.32" stroke="#264675" stroke-width="0.85" stroke-opacity="0.95"/>
<circle cx="412.33" cy="334.00" r="1.85" fill="#3c6497" fill-opacity="0.32" stroke="#264675" stroke-width="0.85" stroke-opacity="0.95"/>
<circle cx="402.80" cy="334.00" r="1.85" fill="#3c6497" fill-opacity="0.32" stroke="#264675" stroke-width="0.85" stroke-opacity="0.95"/>
<circle cx="402.80" cy="334.00" r="1.85" fill="#3c6497" fill-opacity="0.32" stroke="#264675" stroke-width="0.85" stroke-opacity="0.95"/>
<circle cx="402.80" cy="334.00" r="1.85" fill="#3c6497" fill-opacity="0.32" stroke="#264675" stroke-width="0.85" stroke-opacity="0.95"/>
<circle cx="402.80" cy="341.30" r="1.85" fill="#3c6497" fill-opacity="0.32" stroke="#264675" stroke-width="0.85" stroke-opacity="0.95"/>
<circle cx="404.16" cy="341.30" r="1.85" fill="#3c6497" fill-opacity="0.32" stroke="#264675" stroke-width="0.85" stroke-opacity="0.95"/>
<circle cx="402.80" cy="341.30" r="1.85" fill="#3c6497" fill-opacity="0.32" stroke="#264675" stroke-width="0.85" stroke-opacity="0.95"/>
<circle cx="402.80" cy="341.30" r="1.85" fill="#3c6497" fill-opacity="0.32" stroke="#264675" stroke-width="0.85" stroke-opacity="0.95"/>
<circle cx="402.80" cy="341.30" r="1.85" fill="#3c6497" fill-opacity="0.32" stroke="#264675" stroke-width="0.85" stroke-opacity="0.95"/>
<circle cx="402.80" cy="348.60" r="1.85" fill="#3c6497" fill-opacity="0.32" stroke="#264675" stroke-width="0.85" stroke-opacity="0.95"/>
<circle cx="404.62" cy="348.60" r="1.85" fill="#3c6497" fill-opacity="0.32" stroke="#264675" stroke-width="0.85" stroke-opacity="0.95"/>
<circle cx="407.34" cy="348.60" r="1.85" fill="#3c6497" fill-opacity="0.32" stroke="#264675" stroke-width="0.85" stroke-opacity="0.95"/>
<circle cx="411.88" cy="348.60" r="1.85" fill="#3c6497" fill-opacity="0.32" stroke="#264675" stroke-width="0.85" stroke-opacity="0.95"/>
<circle cx="483.16" cy="348.60" r="1.85" fill="#3c6497" fill-opacity="0.32" stroke="#264675" stroke-width="0.85" stroke-opacity="0.95"/>
<circle cx="402.80" cy="348.60" r="1.85" fill="#3c6497" fill-opacity="0.32" stroke="#264675" stroke-width="0.85" stroke-opacity="0.95"/>
<circle cx="402.80" cy="348.60" r="1.85" fill="#3c6497" fill-opacity="0.32" stroke="#264675" stroke-width="0.85" stroke-opacity="0.95"/>
<circle cx="402.80" cy="348.60" r="1.85" fill="#3c6497" fill-opacity="0.32" stroke="#264675" stroke-width="0.85" stroke-opacity="0.95"/>
<circle cx="402.80" cy="356.00" r="1.85" fill="#3c6497" fill-opacity="0.32" stroke="#264675" stroke-width="0.85" stroke-opacity="0.95"/>
<circle cx="404.62" cy="356.00" r="1.85" fill="#3c6497" fill-opacity="0.32" stroke="#264675" stroke-width="0.85" stroke-opacity="0.95"/>
<circle cx="405.98" cy="356.00" r="1.85" fill="#3c6497" fill-opacity="0.32" stroke="#264675" stroke-width="0.85" stroke-opacity="0.95"/>
<circle cx="402.80" cy="356.00" r="1.85" fill="#3c6497" fill-opacity="0.32" stroke="#264675" stroke-width="0.85" stroke-opacity="0.95"/>
<circle cx="402.80" cy="356.00" r="1.85" fill="#3c6497" fill-opacity="0.32" stroke="#264675" stroke-width="0.85" stroke-opacity="0.95"/>
<circle cx="402.80" cy="356.00" r="1.85" fill="#3c6497" fill-opacity="0.32" stroke="#264675" stroke-width="0.85" stroke-opacity="0.95"/>
<circle cx="402.80" cy="363.40" r="1.85" fill="#3c6497" fill-opacity="0.32" stroke="#264675" stroke-width="0.85" stroke-opacity="0.95"/>
<circle cx="402.80" cy="363.40" r="1.85" fill="#3c6497" fill-opacity="0.32" stroke="#264675" stroke-width="0.85" stroke-opacity="0.95"/>
<circle cx="402.80" cy="363.40" r="1.85" fill="#3c6497" fill-opacity="0.32" stroke="#264675" stroke-width="0.85" stroke-opacity="0.95"/>
<circle cx="402.80" cy="363.40" r="1.85" fill="#3c6497" fill-opacity="0.32" stroke="#264675" stroke-width="0.85" stroke-opacity="0.95"/>
<circle cx="402.80" cy="370.70" r="1.85" fill="#3c6497" fill-opacity="0.32" stroke="#264675" stroke-width="0.85" stroke-opacity="0.95"/>
<circle cx="404.62" cy="370.70" r="1.85" fill="#3c6497" fill-opacity="0.32" stroke="#264675" stroke-width="0.85" stroke-opacity="0.95"/>
<circle cx="408.88" cy="370.70" r="1.85" fill="#3c6497" fill-opacity="0.32" stroke="#264675" stroke-width="0.85" stroke-opacity="0.95"/>
<circle cx="402.80" cy="370.70" r="1.85" fill="#3c6497" fill-opacity="0.32" stroke="#264675" stroke-width="0.85" stroke-opacity="0.95"/>
<circle cx="402.80" cy="370.70" r="1.85" fill="#3c6497" fill-opacity="0.32" stroke="#264675" stroke-width="0.85" stroke-opacity="0.95"/>
<circle cx="402.80" cy="370.70" r="1.85" fill="#3c6497" fill-opacity="0.32" stroke="#264675" stroke-width="0.85" stroke-opacity="0.95"/>
<circle cx="402.80" cy="378.00" r="1.85" fill="#3c6497" fill-opacity="0.32" stroke="#264675" stroke-width="0.85" stroke-opacity="0.95"/>
<circle cx="404.62" cy="378.00" r="1.85" fill="#3c6497" fill-opacity="0.32" stroke="#264675" stroke-width="0.85" stroke-opacity="0.95"/>
<circle cx="402.80" cy="378.00" r="1.85" fill="#3c6497" fill-opacity="0.32" stroke="#264675" stroke-width="0.85" stroke-opacity="0.95"/>
<circle cx="402.80" cy="378.00" r="1.85" fill="#3c6497" fill-opacity="0.32" stroke="#264675" stroke-width="0.85" stroke-opacity="0.95"/>
<circle cx="402.80" cy="378.00" r="1.85" fill="#3c6497" fill-opacity="0.32" stroke="#264675" stroke-width="0.85" stroke-opacity="0.95"/>
<circle cx="402.80" cy="385.40" r="1.85" fill="#3c6497" fill-opacity="0.32" stroke="#264675" stroke-width="0.85" stroke-opacity="0.95"/>
<circle cx="404.62" cy="385.40" r="1.85" fill="#3c6497" fill-opacity="0.32" stroke="#264675" stroke-width="0.85" stroke-opacity="0.95"/>
<circle cx="407.34" cy="385.40" r="1.85" fill="#3c6497" fill-opacity="0.32" stroke="#264675" stroke-width="0.85" stroke-opacity="0.95"/>
<circle cx="410.06" cy="385.40" r="1.85" fill="#3c6497" fill-opacity="0.32" stroke="#264675" stroke-width="0.85" stroke-opacity="0.95"/>
<circle cx="402.80" cy="385.40" r="1.85" fill="#3c6497" fill-opacity="0.32" stroke="#264675" stroke-width="0.85" stroke-opacity="0.95"/>
<circle cx="402.80" cy="385.40" r="1.85" fill="#3c6497" fill-opacity="0.32" stroke="#264675" stroke-width="0.85" stroke-opacity="0.95"/>
<circle cx="402.80" cy="385.40" r="1.85" fill="#3c6497" fill-opacity="0.32" stroke="#264675" stroke-width="0.85" stroke-opacity="0.95"/>
<text x="490.00" y="310.80" font-size="6.2" text-anchor="start" fill="#151515" textLength="16.2" lengthAdjust="spacingAndGlyphs" stroke="none" fill-opacity="0.92">Donor</text>
<text x="490.00" y="318.20" font-size="6.2" text-anchor="start" fill="#151515" textLength="23.85" lengthAdjust="spacingAndGlyphs" stroke="none" fill-opacity="0.92">exclusive</text>
<text x="490.00" y="362.20" font-size="6.2" text-anchor="start" fill="#151515" textLength="19.02" lengthAdjust="spacingAndGlyphs" stroke="none" fill-opacity="0.92">Shared</text>
<text x="297" y="267.2" font-size="7.0" stroke="#1a1a1a" stroke-width="0.28" text-anchor="middle" fill="#1a1a1a" textLength="110.3" lengthAdjust="spacingAndGlyphs">Non-parametric mean bray distance change</text>
<text x="297" y="412.3" font-size="7.0" stroke="#1a1a1a" stroke-width="0.28" text-anchor="middle" fill="#1a1a1a" textLength="39.4" lengthAdjust="spacingAndGlyphs">Abundance (%)</text>
<rect x="0" y="0" width="520" height="1" fill="#4a4a4a"/>
<rect x="0" y="0" width="1" height="421" fill="#555"/>
<rect x="519" y="0" width="1" height="421" fill="#555"/>
<rect x="0" y="419.5" width="520" height="1.5" fill="#555"/>
</svg></body></html>
